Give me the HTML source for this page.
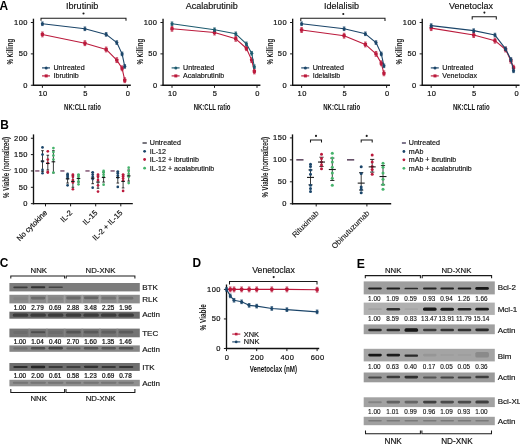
<!DOCTYPE html>
<html><head><meta charset="utf-8"><style>
html,body{margin:0;padding:0;background:#fff;}
body{width:520px;height:445px;overflow:hidden;}
svg{display:block;font-family:"Liberation Sans",sans-serif;filter:blur(0.35px);}
</style></head><body>
<svg width="520" height="445" viewBox="0 0 520 445">
<rect width="520" height="445" fill="#fff"/>
<defs><filter id="bl" x="-20%" y="-100%" width="140%" height="300%"><feGaussianBlur stdDeviation="0.7"/></filter></defs>
<line x1="33.45" y1="18.7" x2="33.45" y2="85.9" stroke="#111" stroke-width="1.35"/>
<line x1="32.8" y1="85.25" x2="130.8" y2="85.25" stroke="#111" stroke-width="1.35"/>
<line x1="30.85" y1="22.5" x2="33.45" y2="22.5" stroke="#1a1a1a" stroke-width="1"/>
<text x="27.9" y="24.81" font-size="7.5" text-anchor="end" letter-spacing="0.45" fill="#111" stroke="#111" stroke-width="0.2">100</text>
<line x1="30.85" y1="53.88" x2="33.45" y2="53.88" stroke="#1a1a1a" stroke-width="1"/>
<text x="27.9" y="56.18" font-size="7.5" text-anchor="end" letter-spacing="0.45" fill="#111" stroke="#111" stroke-width="0.2">50</text>
<line x1="30.85" y1="85.25" x2="33.45" y2="85.25" stroke="#1a1a1a" stroke-width="1"/>
<text x="27.9" y="87.56" font-size="7.5" text-anchor="end" letter-spacing="0.45" fill="#111" stroke="#111" stroke-width="0.2">0</text>
<line x1="42.4" y1="85.25" x2="42.4" y2="87.85" stroke="#1a1a1a" stroke-width="1"/>
<text x="43.03" y="96.31" font-size="7.5" text-anchor="middle" letter-spacing="0.45" fill="#111" stroke="#111" stroke-width="0.2">10</text>
<line x1="84.9" y1="85.25" x2="84.9" y2="87.85" stroke="#1a1a1a" stroke-width="1"/>
<text x="85.53" y="96.31" font-size="7.5" text-anchor="middle" letter-spacing="0.45" fill="#111" stroke="#111" stroke-width="0.2">5</text>
<line x1="127.4" y1="85.25" x2="127.4" y2="87.85" stroke="#1a1a1a" stroke-width="1"/>
<text x="128.03" y="96.31" font-size="7.5" text-anchor="middle" letter-spacing="0.45" fill="#111" stroke="#111" stroke-width="0.2">0</text>
<text x="82.5" y="109.89" font-size="8.7" text-anchor="middle" font-weight="bold" fill="#111" textLength="36.8" lengthAdjust="spacingAndGlyphs">NK:CLL ratio</text>
<text x="10.5" y="54.66" font-size="8.6" text-anchor="middle" font-weight="bold" fill="#111" textLength="25.8" lengthAdjust="spacingAndGlyphs" transform="rotate(-90 10.5 51.7)">% Killing</text>
<text x="82.2" y="9.05" font-size="9" text-anchor="middle" fill="#111" textLength="32.4" lengthAdjust="spacingAndGlyphs" stroke="#111" stroke-width="0.16">Ibrutinib</text>
<polyline points="41,20.8 41,18.2 126,18.2 126,20.8" fill="none" stroke="#1a1a1a" stroke-width="1.05"/>
<circle cx="83.5" cy="13.5" r="1.05" fill="#1a1a1a"/>
<polyline points="42.4,34.42 84.9,43.21 106.15,49.48 116.78,60.15 122.09,68.31 124.74,80.23" fill="none" stroke="#bb1a3c" stroke-width="1.1" stroke-linejoin="round"/>
<line x1="42.4" y1="32.02" x2="42.4" y2="36.82" stroke="#bb1a3c" stroke-width="0.8"/>
<line x1="41.1" y1="32.02" x2="43.7" y2="32.02" stroke="#bb1a3c" stroke-width="0.8"/>
<line x1="41.1" y1="36.82" x2="43.7" y2="36.82" stroke="#bb1a3c" stroke-width="0.8"/>
<rect x="40.7" y="32.72" width="3.4" height="3.4" fill="#bb1a3c" rx="0.8"/>
<line x1="84.9" y1="40.81" x2="84.9" y2="45.61" stroke="#bb1a3c" stroke-width="0.8"/>
<line x1="83.6" y1="40.81" x2="86.2" y2="40.81" stroke="#bb1a3c" stroke-width="0.8"/>
<line x1="83.6" y1="45.61" x2="86.2" y2="45.61" stroke="#bb1a3c" stroke-width="0.8"/>
<rect x="83.2" y="41.51" width="3.4" height="3.4" fill="#bb1a3c" rx="0.8"/>
<line x1="106.15" y1="47.08" x2="106.15" y2="51.88" stroke="#bb1a3c" stroke-width="0.8"/>
<line x1="104.85" y1="47.08" x2="107.45" y2="47.08" stroke="#bb1a3c" stroke-width="0.8"/>
<line x1="104.85" y1="51.88" x2="107.45" y2="51.88" stroke="#bb1a3c" stroke-width="0.8"/>
<rect x="104.45" y="47.78" width="3.4" height="3.4" fill="#bb1a3c" rx="0.8"/>
<line x1="116.78" y1="57.75" x2="116.78" y2="62.55" stroke="#bb1a3c" stroke-width="0.8"/>
<line x1="115.48" y1="57.75" x2="118.08" y2="57.75" stroke="#bb1a3c" stroke-width="0.8"/>
<line x1="115.48" y1="62.55" x2="118.08" y2="62.55" stroke="#bb1a3c" stroke-width="0.8"/>
<rect x="115.08" y="58.45" width="3.4" height="3.4" fill="#bb1a3c" rx="0.8"/>
<line x1="122.09" y1="65.91" x2="122.09" y2="70.71" stroke="#bb1a3c" stroke-width="0.8"/>
<line x1="120.79" y1="65.91" x2="123.39" y2="65.91" stroke="#bb1a3c" stroke-width="0.8"/>
<line x1="120.79" y1="70.71" x2="123.39" y2="70.71" stroke="#bb1a3c" stroke-width="0.8"/>
<rect x="120.39" y="66.61" width="3.4" height="3.4" fill="#bb1a3c" rx="0.8"/>
<line x1="124.74" y1="77.83" x2="124.74" y2="82.63" stroke="#bb1a3c" stroke-width="0.8"/>
<line x1="123.44" y1="77.83" x2="126.04" y2="77.83" stroke="#bb1a3c" stroke-width="0.8"/>
<line x1="123.44" y1="82.63" x2="126.04" y2="82.63" stroke="#bb1a3c" stroke-width="0.8"/>
<rect x="123.04" y="78.53" width="3.4" height="3.4" fill="#bb1a3c" rx="0.8"/>
<polyline points="42.4,23.76 84.9,28.78 106.15,34.42 116.78,42.58 122.09,53.88 124.74,66.42" fill="none" stroke="#1b4569" stroke-width="1.1" stroke-linejoin="round"/>
<line x1="42.4" y1="21.96" x2="42.4" y2="25.56" stroke="#1b4569" stroke-width="0.8"/>
<line x1="41.1" y1="21.96" x2="43.7" y2="21.96" stroke="#1b4569" stroke-width="0.8"/>
<line x1="41.1" y1="25.56" x2="43.7" y2="25.56" stroke="#1b4569" stroke-width="0.8"/>
<circle cx="42.4" cy="23.76" r="1.6" fill="#1b4569"/>
<line x1="84.9" y1="26.98" x2="84.9" y2="30.58" stroke="#1b4569" stroke-width="0.8"/>
<line x1="83.6" y1="26.98" x2="86.2" y2="26.98" stroke="#1b4569" stroke-width="0.8"/>
<line x1="83.6" y1="30.58" x2="86.2" y2="30.58" stroke="#1b4569" stroke-width="0.8"/>
<circle cx="84.9" cy="28.78" r="1.6" fill="#1b4569"/>
<line x1="106.15" y1="32.62" x2="106.15" y2="36.22" stroke="#1b4569" stroke-width="0.8"/>
<line x1="104.85" y1="32.62" x2="107.45" y2="32.62" stroke="#1b4569" stroke-width="0.8"/>
<line x1="104.85" y1="36.22" x2="107.45" y2="36.22" stroke="#1b4569" stroke-width="0.8"/>
<circle cx="106.15" cy="34.42" r="1.6" fill="#1b4569"/>
<line x1="116.78" y1="40.78" x2="116.78" y2="44.38" stroke="#1b4569" stroke-width="0.8"/>
<line x1="115.48" y1="40.78" x2="118.08" y2="40.78" stroke="#1b4569" stroke-width="0.8"/>
<line x1="115.48" y1="44.38" x2="118.08" y2="44.38" stroke="#1b4569" stroke-width="0.8"/>
<circle cx="116.78" cy="42.58" r="1.6" fill="#1b4569"/>
<line x1="122.09" y1="52.08" x2="122.09" y2="55.67" stroke="#1b4569" stroke-width="0.8"/>
<line x1="120.79" y1="52.08" x2="123.39" y2="52.08" stroke="#1b4569" stroke-width="0.8"/>
<line x1="120.79" y1="55.67" x2="123.39" y2="55.67" stroke="#1b4569" stroke-width="0.8"/>
<circle cx="122.09" cy="53.88" r="1.6" fill="#1b4569"/>
<line x1="124.74" y1="64.62" x2="124.74" y2="68.22" stroke="#1b4569" stroke-width="0.8"/>
<line x1="123.44" y1="64.62" x2="126.04" y2="64.62" stroke="#1b4569" stroke-width="0.8"/>
<line x1="123.44" y1="68.22" x2="126.04" y2="68.22" stroke="#1b4569" stroke-width="0.8"/>
<circle cx="124.74" cy="66.42" r="1.6" fill="#1b4569"/>
<line x1="42" y1="67.9" x2="50" y2="67.9" stroke="#1b4569" stroke-width="1.15"/>
<circle cx="46.2" cy="67.9" r="1.5" fill="#1b4569"/>
<text x="53.5" y="70.24" font-size="7.1" text-anchor="start" fill="#111" stroke="#111" stroke-width="0.16">Untreated</text>
<line x1="42" y1="75.9" x2="50" y2="75.9" stroke="#bb1a3c" stroke-width="1.15"/>
<rect x="44.7" y="74.4" width="3" height="3" fill="#bb1a3c"/>
<text x="53.5" y="78.14" font-size="7.1" text-anchor="start" fill="#111" stroke="#111" stroke-width="0.16">Ibrutinib</text>
<line x1="163.05" y1="18.7" x2="163.05" y2="85.9" stroke="#111" stroke-width="1.35"/>
<line x1="162.4" y1="85.25" x2="260.4" y2="85.25" stroke="#111" stroke-width="1.35"/>
<line x1="160.45" y1="22.5" x2="163.05" y2="22.5" stroke="#1a1a1a" stroke-width="1"/>
<text x="157.5" y="24.81" font-size="7.5" text-anchor="end" letter-spacing="0.45" fill="#111" stroke="#111" stroke-width="0.2">100</text>
<line x1="160.45" y1="53.88" x2="163.05" y2="53.88" stroke="#1a1a1a" stroke-width="1"/>
<text x="157.5" y="56.18" font-size="7.5" text-anchor="end" letter-spacing="0.45" fill="#111" stroke="#111" stroke-width="0.2">50</text>
<line x1="160.45" y1="85.25" x2="163.05" y2="85.25" stroke="#1a1a1a" stroke-width="1"/>
<text x="157.5" y="87.56" font-size="7.5" text-anchor="end" letter-spacing="0.45" fill="#111" stroke="#111" stroke-width="0.2">0</text>
<line x1="172" y1="85.25" x2="172" y2="87.85" stroke="#1a1a1a" stroke-width="1"/>
<text x="172.62" y="96.31" font-size="7.5" text-anchor="middle" letter-spacing="0.45" fill="#111" stroke="#111" stroke-width="0.2">10</text>
<line x1="214.5" y1="85.25" x2="214.5" y2="87.85" stroke="#1a1a1a" stroke-width="1"/>
<text x="215.12" y="96.31" font-size="7.5" text-anchor="middle" letter-spacing="0.45" fill="#111" stroke="#111" stroke-width="0.2">5</text>
<line x1="257" y1="85.25" x2="257" y2="87.85" stroke="#1a1a1a" stroke-width="1"/>
<text x="257.62" y="96.31" font-size="7.5" text-anchor="middle" letter-spacing="0.45" fill="#111" stroke="#111" stroke-width="0.2">0</text>
<text x="212.1" y="109.89" font-size="8.7" text-anchor="middle" font-weight="bold" fill="#111" textLength="36.8" lengthAdjust="spacingAndGlyphs">NK:CLL ratio</text>
<text x="140.1" y="54.66" font-size="8.6" text-anchor="middle" font-weight="bold" fill="#111" textLength="25.8" lengthAdjust="spacingAndGlyphs" transform="rotate(-90 140.1 51.7)">% Killing</text>
<text x="211.8" y="9.05" font-size="9" text-anchor="middle" fill="#111" stroke="#111" stroke-width="0.16">Acalabrutinib</text>
<polyline points="172,28.78 214.5,32.54 235.75,38.82 246.38,48.23 251.69,60.15 254.34,71.44" fill="none" stroke="#bb1a3c" stroke-width="1.1" stroke-linejoin="round"/>
<line x1="172" y1="26.38" x2="172" y2="31.18" stroke="#bb1a3c" stroke-width="0.8"/>
<line x1="170.7" y1="26.38" x2="173.3" y2="26.38" stroke="#bb1a3c" stroke-width="0.8"/>
<line x1="170.7" y1="31.18" x2="173.3" y2="31.18" stroke="#bb1a3c" stroke-width="0.8"/>
<rect x="170.3" y="27.08" width="3.4" height="3.4" fill="#bb1a3c" rx="0.8"/>
<line x1="214.5" y1="30.14" x2="214.5" y2="34.94" stroke="#bb1a3c" stroke-width="0.8"/>
<line x1="213.2" y1="30.14" x2="215.8" y2="30.14" stroke="#bb1a3c" stroke-width="0.8"/>
<line x1="213.2" y1="34.94" x2="215.8" y2="34.94" stroke="#bb1a3c" stroke-width="0.8"/>
<rect x="212.8" y="30.84" width="3.4" height="3.4" fill="#bb1a3c" rx="0.8"/>
<line x1="235.75" y1="36.42" x2="235.75" y2="41.22" stroke="#bb1a3c" stroke-width="0.8"/>
<line x1="234.45" y1="36.42" x2="237.05" y2="36.42" stroke="#bb1a3c" stroke-width="0.8"/>
<line x1="234.45" y1="41.22" x2="237.05" y2="41.22" stroke="#bb1a3c" stroke-width="0.8"/>
<rect x="234.05" y="37.12" width="3.4" height="3.4" fill="#bb1a3c" rx="0.8"/>
<line x1="246.38" y1="45.83" x2="246.38" y2="50.63" stroke="#bb1a3c" stroke-width="0.8"/>
<line x1="245.07" y1="45.83" x2="247.68" y2="45.83" stroke="#bb1a3c" stroke-width="0.8"/>
<line x1="245.07" y1="50.63" x2="247.68" y2="50.63" stroke="#bb1a3c" stroke-width="0.8"/>
<rect x="244.68" y="46.53" width="3.4" height="3.4" fill="#bb1a3c" rx="0.8"/>
<line x1="251.69" y1="57.75" x2="251.69" y2="62.55" stroke="#bb1a3c" stroke-width="0.8"/>
<line x1="250.39" y1="57.75" x2="252.99" y2="57.75" stroke="#bb1a3c" stroke-width="0.8"/>
<line x1="250.39" y1="62.55" x2="252.99" y2="62.55" stroke="#bb1a3c" stroke-width="0.8"/>
<rect x="249.99" y="58.45" width="3.4" height="3.4" fill="#bb1a3c" rx="0.8"/>
<line x1="254.34" y1="69.04" x2="254.34" y2="73.84" stroke="#bb1a3c" stroke-width="0.8"/>
<line x1="253.04" y1="69.04" x2="255.64" y2="69.04" stroke="#bb1a3c" stroke-width="0.8"/>
<line x1="253.04" y1="73.84" x2="255.64" y2="73.84" stroke="#bb1a3c" stroke-width="0.8"/>
<rect x="252.64" y="69.74" width="3.4" height="3.4" fill="#bb1a3c" rx="0.8"/>
<polyline points="172,23.76 214.5,29.72 235.75,33.8 246.38,43.84 251.69,53.25 254.34,66.74" fill="none" stroke="#1c5a6e" stroke-width="1.1" stroke-linejoin="round"/>
<line x1="172" y1="21.96" x2="172" y2="25.56" stroke="#1c5a6e" stroke-width="0.8"/>
<line x1="170.7" y1="21.96" x2="173.3" y2="21.96" stroke="#1c5a6e" stroke-width="0.8"/>
<line x1="170.7" y1="25.56" x2="173.3" y2="25.56" stroke="#1c5a6e" stroke-width="0.8"/>
<circle cx="172" cy="23.76" r="1.6" fill="#1c5a6e"/>
<line x1="214.5" y1="27.92" x2="214.5" y2="31.52" stroke="#1c5a6e" stroke-width="0.8"/>
<line x1="213.2" y1="27.92" x2="215.8" y2="27.92" stroke="#1c5a6e" stroke-width="0.8"/>
<line x1="213.2" y1="31.52" x2="215.8" y2="31.52" stroke="#1c5a6e" stroke-width="0.8"/>
<circle cx="214.5" cy="29.72" r="1.6" fill="#1c5a6e"/>
<line x1="235.75" y1="32" x2="235.75" y2="35.59" stroke="#1c5a6e" stroke-width="0.8"/>
<line x1="234.45" y1="32" x2="237.05" y2="32" stroke="#1c5a6e" stroke-width="0.8"/>
<line x1="234.45" y1="35.59" x2="237.05" y2="35.59" stroke="#1c5a6e" stroke-width="0.8"/>
<circle cx="235.75" cy="33.8" r="1.6" fill="#1c5a6e"/>
<line x1="246.38" y1="42.04" x2="246.38" y2="45.63" stroke="#1c5a6e" stroke-width="0.8"/>
<line x1="245.07" y1="42.04" x2="247.68" y2="42.04" stroke="#1c5a6e" stroke-width="0.8"/>
<line x1="245.07" y1="45.63" x2="247.68" y2="45.63" stroke="#1c5a6e" stroke-width="0.8"/>
<circle cx="246.38" cy="43.84" r="1.6" fill="#1c5a6e"/>
<line x1="251.69" y1="51.45" x2="251.69" y2="55.05" stroke="#1c5a6e" stroke-width="0.8"/>
<line x1="250.39" y1="51.45" x2="252.99" y2="51.45" stroke="#1c5a6e" stroke-width="0.8"/>
<line x1="250.39" y1="55.05" x2="252.99" y2="55.05" stroke="#1c5a6e" stroke-width="0.8"/>
<circle cx="251.69" cy="53.25" r="1.6" fill="#1c5a6e"/>
<line x1="254.34" y1="64.94" x2="254.34" y2="68.54" stroke="#1c5a6e" stroke-width="0.8"/>
<line x1="253.04" y1="64.94" x2="255.64" y2="64.94" stroke="#1c5a6e" stroke-width="0.8"/>
<line x1="253.04" y1="68.54" x2="255.64" y2="68.54" stroke="#1c5a6e" stroke-width="0.8"/>
<circle cx="254.34" cy="66.74" r="1.6" fill="#1c5a6e"/>
<line x1="171.6" y1="67.9" x2="179.6" y2="67.9" stroke="#1c5a6e" stroke-width="1.15"/>
<circle cx="175.8" cy="67.9" r="1.5" fill="#1c5a6e"/>
<text x="183.1" y="70.24" font-size="7.1" text-anchor="start" fill="#111" stroke="#111" stroke-width="0.16">Untreated</text>
<line x1="171.6" y1="75.9" x2="179.6" y2="75.9" stroke="#bb1a3c" stroke-width="1.15"/>
<rect x="174.3" y="74.4" width="3" height="3" fill="#bb1a3c"/>
<text x="183.1" y="78.14" font-size="7.1" text-anchor="start" fill="#111" stroke="#111" stroke-width="0.16">Acalabrutinib</text>
<line x1="292.65" y1="18.7" x2="292.65" y2="85.9" stroke="#111" stroke-width="1.35"/>
<line x1="292" y1="85.25" x2="390" y2="85.25" stroke="#111" stroke-width="1.35"/>
<line x1="290.05" y1="22.5" x2="292.65" y2="22.5" stroke="#1a1a1a" stroke-width="1"/>
<text x="287.1" y="24.81" font-size="7.5" text-anchor="end" letter-spacing="0.45" fill="#111" stroke="#111" stroke-width="0.2">100</text>
<line x1="290.05" y1="53.88" x2="292.65" y2="53.88" stroke="#1a1a1a" stroke-width="1"/>
<text x="287.1" y="56.18" font-size="7.5" text-anchor="end" letter-spacing="0.45" fill="#111" stroke="#111" stroke-width="0.2">50</text>
<line x1="290.05" y1="85.25" x2="292.65" y2="85.25" stroke="#1a1a1a" stroke-width="1"/>
<text x="287.1" y="87.56" font-size="7.5" text-anchor="end" letter-spacing="0.45" fill="#111" stroke="#111" stroke-width="0.2">0</text>
<line x1="301.6" y1="85.25" x2="301.6" y2="87.85" stroke="#1a1a1a" stroke-width="1"/>
<text x="302.23" y="96.31" font-size="7.5" text-anchor="middle" letter-spacing="0.45" fill="#111" stroke="#111" stroke-width="0.2">10</text>
<line x1="344.1" y1="85.25" x2="344.1" y2="87.85" stroke="#1a1a1a" stroke-width="1"/>
<text x="344.73" y="96.31" font-size="7.5" text-anchor="middle" letter-spacing="0.45" fill="#111" stroke="#111" stroke-width="0.2">5</text>
<line x1="386.6" y1="85.25" x2="386.6" y2="87.85" stroke="#1a1a1a" stroke-width="1"/>
<text x="387.23" y="96.31" font-size="7.5" text-anchor="middle" letter-spacing="0.45" fill="#111" stroke="#111" stroke-width="0.2">0</text>
<text x="341.7" y="109.89" font-size="8.7" text-anchor="middle" font-weight="bold" fill="#111" textLength="36.8" lengthAdjust="spacingAndGlyphs">NK:CLL ratio</text>
<text x="269.7" y="54.66" font-size="8.6" text-anchor="middle" font-weight="bold" fill="#111" textLength="25.8" lengthAdjust="spacingAndGlyphs" transform="rotate(-90 269.7 51.7)">% Killing</text>
<text x="341.4" y="9.05" font-size="9" text-anchor="middle" fill="#111" stroke="#111" stroke-width="0.16">Idelalisib</text>
<polyline points="300.8,20.9 300.8,18.3 385,18.3 385,20.9" fill="none" stroke="#1a1a1a" stroke-width="1.05"/>
<circle cx="343.3" cy="14" r="1.05" fill="#1a1a1a"/>
<polyline points="301.6,30.03 344.1,35.68 365.35,44.46 375.98,53.88 381.29,63.29 383.94,73.33" fill="none" stroke="#bb1a3c" stroke-width="1.1" stroke-linejoin="round"/>
<line x1="301.6" y1="27.63" x2="301.6" y2="32.43" stroke="#bb1a3c" stroke-width="0.8"/>
<line x1="300.3" y1="27.63" x2="302.9" y2="27.63" stroke="#bb1a3c" stroke-width="0.8"/>
<line x1="300.3" y1="32.43" x2="302.9" y2="32.43" stroke="#bb1a3c" stroke-width="0.8"/>
<rect x="299.9" y="28.33" width="3.4" height="3.4" fill="#bb1a3c" rx="0.8"/>
<line x1="344.1" y1="33.28" x2="344.1" y2="38.08" stroke="#bb1a3c" stroke-width="0.8"/>
<line x1="342.8" y1="33.28" x2="345.4" y2="33.28" stroke="#bb1a3c" stroke-width="0.8"/>
<line x1="342.8" y1="38.08" x2="345.4" y2="38.08" stroke="#bb1a3c" stroke-width="0.8"/>
<rect x="342.4" y="33.98" width="3.4" height="3.4" fill="#bb1a3c" rx="0.8"/>
<line x1="365.35" y1="42.06" x2="365.35" y2="46.86" stroke="#bb1a3c" stroke-width="0.8"/>
<line x1="364.05" y1="42.06" x2="366.65" y2="42.06" stroke="#bb1a3c" stroke-width="0.8"/>
<line x1="364.05" y1="46.86" x2="366.65" y2="46.86" stroke="#bb1a3c" stroke-width="0.8"/>
<rect x="363.65" y="42.76" width="3.4" height="3.4" fill="#bb1a3c" rx="0.8"/>
<line x1="375.98" y1="51.48" x2="375.98" y2="56.27" stroke="#bb1a3c" stroke-width="0.8"/>
<line x1="374.68" y1="51.48" x2="377.28" y2="51.48" stroke="#bb1a3c" stroke-width="0.8"/>
<line x1="374.68" y1="56.27" x2="377.28" y2="56.27" stroke="#bb1a3c" stroke-width="0.8"/>
<rect x="374.28" y="52.17" width="3.4" height="3.4" fill="#bb1a3c" rx="0.8"/>
<line x1="381.29" y1="60.89" x2="381.29" y2="65.69" stroke="#bb1a3c" stroke-width="0.8"/>
<line x1="379.99" y1="60.89" x2="382.59" y2="60.89" stroke="#bb1a3c" stroke-width="0.8"/>
<line x1="379.99" y1="65.69" x2="382.59" y2="65.69" stroke="#bb1a3c" stroke-width="0.8"/>
<rect x="379.59" y="61.59" width="3.4" height="3.4" fill="#bb1a3c" rx="0.8"/>
<line x1="383.94" y1="70.93" x2="383.94" y2="75.73" stroke="#bb1a3c" stroke-width="0.8"/>
<line x1="382.64" y1="70.93" x2="385.24" y2="70.93" stroke="#bb1a3c" stroke-width="0.8"/>
<line x1="382.64" y1="75.73" x2="385.24" y2="75.73" stroke="#bb1a3c" stroke-width="0.8"/>
<rect x="382.24" y="71.63" width="3.4" height="3.4" fill="#bb1a3c" rx="0.8"/>
<polyline points="301.6,23.76 344.1,28.78 365.35,33.8 375.98,42.58 381.29,53.88 383.94,65.8" fill="none" stroke="#1b4569" stroke-width="1.1" stroke-linejoin="round"/>
<line x1="301.6" y1="21.96" x2="301.6" y2="25.56" stroke="#1b4569" stroke-width="0.8"/>
<line x1="300.3" y1="21.96" x2="302.9" y2="21.96" stroke="#1b4569" stroke-width="0.8"/>
<line x1="300.3" y1="25.56" x2="302.9" y2="25.56" stroke="#1b4569" stroke-width="0.8"/>
<circle cx="301.6" cy="23.76" r="1.6" fill="#1b4569"/>
<line x1="344.1" y1="26.98" x2="344.1" y2="30.58" stroke="#1b4569" stroke-width="0.8"/>
<line x1="342.8" y1="26.98" x2="345.4" y2="26.98" stroke="#1b4569" stroke-width="0.8"/>
<line x1="342.8" y1="30.58" x2="345.4" y2="30.58" stroke="#1b4569" stroke-width="0.8"/>
<circle cx="344.1" cy="28.78" r="1.6" fill="#1b4569"/>
<line x1="365.35" y1="32" x2="365.35" y2="35.59" stroke="#1b4569" stroke-width="0.8"/>
<line x1="364.05" y1="32" x2="366.65" y2="32" stroke="#1b4569" stroke-width="0.8"/>
<line x1="364.05" y1="35.59" x2="366.65" y2="35.59" stroke="#1b4569" stroke-width="0.8"/>
<circle cx="365.35" cy="33.8" r="1.6" fill="#1b4569"/>
<line x1="375.98" y1="40.78" x2="375.98" y2="44.38" stroke="#1b4569" stroke-width="0.8"/>
<line x1="374.68" y1="40.78" x2="377.28" y2="40.78" stroke="#1b4569" stroke-width="0.8"/>
<line x1="374.68" y1="44.38" x2="377.28" y2="44.38" stroke="#1b4569" stroke-width="0.8"/>
<circle cx="375.98" cy="42.58" r="1.6" fill="#1b4569"/>
<line x1="381.29" y1="52.08" x2="381.29" y2="55.67" stroke="#1b4569" stroke-width="0.8"/>
<line x1="379.99" y1="52.08" x2="382.59" y2="52.08" stroke="#1b4569" stroke-width="0.8"/>
<line x1="379.99" y1="55.67" x2="382.59" y2="55.67" stroke="#1b4569" stroke-width="0.8"/>
<circle cx="381.29" cy="53.88" r="1.6" fill="#1b4569"/>
<line x1="383.94" y1="64" x2="383.94" y2="67.6" stroke="#1b4569" stroke-width="0.8"/>
<line x1="382.64" y1="64" x2="385.24" y2="64" stroke="#1b4569" stroke-width="0.8"/>
<line x1="382.64" y1="67.6" x2="385.24" y2="67.6" stroke="#1b4569" stroke-width="0.8"/>
<circle cx="383.94" cy="65.8" r="1.6" fill="#1b4569"/>
<line x1="301.2" y1="67.9" x2="309.2" y2="67.9" stroke="#1b4569" stroke-width="1.15"/>
<circle cx="305.4" cy="67.9" r="1.5" fill="#1b4569"/>
<text x="312.7" y="70.24" font-size="7.1" text-anchor="start" fill="#111" stroke="#111" stroke-width="0.16">Untreated</text>
<line x1="301.2" y1="75.9" x2="309.2" y2="75.9" stroke="#bb1a3c" stroke-width="1.15"/>
<rect x="303.9" y="74.4" width="3" height="3" fill="#bb1a3c"/>
<text x="312.7" y="78.14" font-size="7.1" text-anchor="start" fill="#111" stroke="#111" stroke-width="0.16">Idelalisib</text>
<line x1="422.25" y1="18.7" x2="422.25" y2="85.9" stroke="#111" stroke-width="1.35"/>
<line x1="421.6" y1="85.25" x2="519.6" y2="85.25" stroke="#111" stroke-width="1.35"/>
<line x1="419.65" y1="22.5" x2="422.25" y2="22.5" stroke="#1a1a1a" stroke-width="1"/>
<text x="416.7" y="24.81" font-size="7.5" text-anchor="end" letter-spacing="0.45" fill="#111" stroke="#111" stroke-width="0.2">100</text>
<line x1="419.65" y1="53.88" x2="422.25" y2="53.88" stroke="#1a1a1a" stroke-width="1"/>
<text x="416.7" y="56.18" font-size="7.5" text-anchor="end" letter-spacing="0.45" fill="#111" stroke="#111" stroke-width="0.2">50</text>
<line x1="419.65" y1="85.25" x2="422.25" y2="85.25" stroke="#1a1a1a" stroke-width="1"/>
<text x="416.7" y="87.56" font-size="7.5" text-anchor="end" letter-spacing="0.45" fill="#111" stroke="#111" stroke-width="0.2">0</text>
<line x1="431.2" y1="85.25" x2="431.2" y2="87.85" stroke="#1a1a1a" stroke-width="1"/>
<text x="431.82" y="96.31" font-size="7.5" text-anchor="middle" letter-spacing="0.45" fill="#111" stroke="#111" stroke-width="0.2">10</text>
<line x1="473.7" y1="85.25" x2="473.7" y2="87.85" stroke="#1a1a1a" stroke-width="1"/>
<text x="474.32" y="96.31" font-size="7.5" text-anchor="middle" letter-spacing="0.45" fill="#111" stroke="#111" stroke-width="0.2">5</text>
<line x1="516.2" y1="85.25" x2="516.2" y2="87.85" stroke="#1a1a1a" stroke-width="1"/>
<text x="516.82" y="96.31" font-size="7.5" text-anchor="middle" letter-spacing="0.45" fill="#111" stroke="#111" stroke-width="0.2">0</text>
<text x="471.3" y="109.89" font-size="8.7" text-anchor="middle" font-weight="bold" fill="#111" textLength="36.8" lengthAdjust="spacingAndGlyphs">NK:CLL ratio</text>
<text x="399.3" y="54.66" font-size="8.6" text-anchor="middle" font-weight="bold" fill="#111" textLength="25.8" lengthAdjust="spacingAndGlyphs" transform="rotate(-90 399.3 51.7)">% Killing</text>
<text x="471" y="9.05" font-size="9" text-anchor="middle" fill="#111" stroke="#111" stroke-width="0.16">Venetoclax</text>
<polyline points="472.2,19.4 472.2,16.8 496.3,16.8 496.3,19.4" fill="none" stroke="#1a1a1a" stroke-width="1.05"/>
<circle cx="484.4" cy="12.6" r="1.05" fill="#1a1a1a"/>
<polyline points="431.2,28.15 473.7,35.05 494.95,40.7 505.57,49.48 510.89,60.78 513.54,67.68" fill="none" stroke="#bb1a3c" stroke-width="1.1" stroke-linejoin="round"/>
<line x1="431.2" y1="25.75" x2="431.2" y2="30.55" stroke="#bb1a3c" stroke-width="0.8"/>
<line x1="429.9" y1="25.75" x2="432.5" y2="25.75" stroke="#bb1a3c" stroke-width="0.8"/>
<line x1="429.9" y1="30.55" x2="432.5" y2="30.55" stroke="#bb1a3c" stroke-width="0.8"/>
<rect x="429.5" y="26.45" width="3.4" height="3.4" fill="#bb1a3c" rx="0.8"/>
<line x1="473.7" y1="32.65" x2="473.7" y2="37.45" stroke="#bb1a3c" stroke-width="0.8"/>
<line x1="472.4" y1="32.65" x2="475" y2="32.65" stroke="#bb1a3c" stroke-width="0.8"/>
<line x1="472.4" y1="37.45" x2="475" y2="37.45" stroke="#bb1a3c" stroke-width="0.8"/>
<rect x="472" y="33.35" width="3.4" height="3.4" fill="#bb1a3c" rx="0.8"/>
<line x1="494.95" y1="38.3" x2="494.95" y2="43.1" stroke="#bb1a3c" stroke-width="0.8"/>
<line x1="493.65" y1="38.3" x2="496.25" y2="38.3" stroke="#bb1a3c" stroke-width="0.8"/>
<line x1="493.65" y1="43.1" x2="496.25" y2="43.1" stroke="#bb1a3c" stroke-width="0.8"/>
<rect x="493.25" y="39" width="3.4" height="3.4" fill="#bb1a3c" rx="0.8"/>
<line x1="505.57" y1="47.08" x2="505.57" y2="51.88" stroke="#bb1a3c" stroke-width="0.8"/>
<line x1="504.27" y1="47.08" x2="506.87" y2="47.08" stroke="#bb1a3c" stroke-width="0.8"/>
<line x1="504.27" y1="51.88" x2="506.87" y2="51.88" stroke="#bb1a3c" stroke-width="0.8"/>
<rect x="503.87" y="47.78" width="3.4" height="3.4" fill="#bb1a3c" rx="0.8"/>
<line x1="510.89" y1="58.38" x2="510.89" y2="63.18" stroke="#bb1a3c" stroke-width="0.8"/>
<line x1="509.59" y1="58.38" x2="512.19" y2="58.38" stroke="#bb1a3c" stroke-width="0.8"/>
<line x1="509.59" y1="63.18" x2="512.19" y2="63.18" stroke="#bb1a3c" stroke-width="0.8"/>
<rect x="509.19" y="59.08" width="3.4" height="3.4" fill="#bb1a3c" rx="0.8"/>
<line x1="513.54" y1="65.28" x2="513.54" y2="70.08" stroke="#bb1a3c" stroke-width="0.8"/>
<line x1="512.24" y1="65.28" x2="514.84" y2="65.28" stroke="#bb1a3c" stroke-width="0.8"/>
<line x1="512.24" y1="70.08" x2="514.84" y2="70.08" stroke="#bb1a3c" stroke-width="0.8"/>
<rect x="511.84" y="65.98" width="3.4" height="3.4" fill="#bb1a3c" rx="0.8"/>
<polyline points="431.2,25.64 473.7,30.66 494.95,35.05 505.57,48.86 510.89,59.52 513.54,70.82" fill="none" stroke="#1b4569" stroke-width="1.1" stroke-linejoin="round"/>
<line x1="431.2" y1="23.84" x2="431.2" y2="27.44" stroke="#1b4569" stroke-width="0.8"/>
<line x1="429.9" y1="23.84" x2="432.5" y2="23.84" stroke="#1b4569" stroke-width="0.8"/>
<line x1="429.9" y1="27.44" x2="432.5" y2="27.44" stroke="#1b4569" stroke-width="0.8"/>
<circle cx="431.2" cy="25.64" r="1.6" fill="#1b4569"/>
<line x1="473.7" y1="28.86" x2="473.7" y2="32.46" stroke="#1b4569" stroke-width="0.8"/>
<line x1="472.4" y1="28.86" x2="475" y2="28.86" stroke="#1b4569" stroke-width="0.8"/>
<line x1="472.4" y1="32.46" x2="475" y2="32.46" stroke="#1b4569" stroke-width="0.8"/>
<circle cx="473.7" cy="30.66" r="1.6" fill="#1b4569"/>
<line x1="494.95" y1="33.25" x2="494.95" y2="36.85" stroke="#1b4569" stroke-width="0.8"/>
<line x1="493.65" y1="33.25" x2="496.25" y2="33.25" stroke="#1b4569" stroke-width="0.8"/>
<line x1="493.65" y1="36.85" x2="496.25" y2="36.85" stroke="#1b4569" stroke-width="0.8"/>
<circle cx="494.95" cy="35.05" r="1.6" fill="#1b4569"/>
<line x1="505.57" y1="47.06" x2="505.57" y2="50.66" stroke="#1b4569" stroke-width="0.8"/>
<line x1="504.27" y1="47.06" x2="506.87" y2="47.06" stroke="#1b4569" stroke-width="0.8"/>
<line x1="504.27" y1="50.66" x2="506.87" y2="50.66" stroke="#1b4569" stroke-width="0.8"/>
<circle cx="505.57" cy="48.86" r="1.6" fill="#1b4569"/>
<line x1="510.89" y1="57.72" x2="510.89" y2="61.32" stroke="#1b4569" stroke-width="0.8"/>
<line x1="509.59" y1="57.72" x2="512.19" y2="57.72" stroke="#1b4569" stroke-width="0.8"/>
<line x1="509.59" y1="61.32" x2="512.19" y2="61.32" stroke="#1b4569" stroke-width="0.8"/>
<circle cx="510.89" cy="59.52" r="1.6" fill="#1b4569"/>
<line x1="513.54" y1="69.02" x2="513.54" y2="72.62" stroke="#1b4569" stroke-width="0.8"/>
<line x1="512.24" y1="69.02" x2="514.84" y2="69.02" stroke="#1b4569" stroke-width="0.8"/>
<line x1="512.24" y1="72.62" x2="514.84" y2="72.62" stroke="#1b4569" stroke-width="0.8"/>
<circle cx="513.54" cy="70.82" r="1.6" fill="#1b4569"/>
<line x1="430.8" y1="67.9" x2="438.8" y2="67.9" stroke="#1b4569" stroke-width="1.15"/>
<circle cx="435" cy="67.9" r="1.5" fill="#1b4569"/>
<text x="442.3" y="70.24" font-size="7.1" text-anchor="start" fill="#111" stroke="#111" stroke-width="0.16">Untreated</text>
<line x1="430.8" y1="75.9" x2="438.8" y2="75.9" stroke="#bb1a3c" stroke-width="1.15"/>
<rect x="433.5" y="74.4" width="3" height="3" fill="#bb1a3c"/>
<text x="442.3" y="78.14" font-size="7.1" text-anchor="start" fill="#111" stroke="#111" stroke-width="0.16">Venetoclax</text>
<text x="3.9" y="9.99" font-size="11.9" text-anchor="middle" font-weight="bold" fill="#000">A</text>
<text x="4.6" y="129.39" font-size="11.9" text-anchor="middle" font-weight="bold" fill="#000">B</text>
<line x1="33.5" y1="134.4" x2="33.5" y2="204.3" stroke="#111" stroke-width="1.35"/>
<line x1="32.85" y1="203.65" x2="132.8" y2="203.65" stroke="#111" stroke-width="1.35"/>
<line x1="30.9" y1="138.25" x2="33.5" y2="138.25" stroke="#1a1a1a" stroke-width="1"/>
<text x="27.95" y="140.56" font-size="7.5" text-anchor="end" letter-spacing="0.45" fill="#111" stroke="#111" stroke-width="0.2">200</text>
<line x1="30.9" y1="154.6" x2="33.5" y2="154.6" stroke="#1a1a1a" stroke-width="1"/>
<text x="27.95" y="156.91" font-size="7.5" text-anchor="end" letter-spacing="0.45" fill="#111" stroke="#111" stroke-width="0.2">150</text>
<line x1="30.9" y1="170.95" x2="33.5" y2="170.95" stroke="#1a1a1a" stroke-width="1"/>
<text x="27.95" y="173.26" font-size="7.5" text-anchor="end" letter-spacing="0.45" fill="#111" stroke="#111" stroke-width="0.2">100</text>
<line x1="30.9" y1="187.3" x2="33.5" y2="187.3" stroke="#1a1a1a" stroke-width="1"/>
<text x="27.95" y="189.61" font-size="7.5" text-anchor="end" letter-spacing="0.45" fill="#111" stroke="#111" stroke-width="0.2">50</text>
<line x1="30.9" y1="203.65" x2="33.5" y2="203.65" stroke="#1a1a1a" stroke-width="1"/>
<text x="27.95" y="205.96" font-size="7.5" text-anchor="end" letter-spacing="0.45" fill="#111" stroke="#111" stroke-width="0.2">0</text>
<text x="6.6" y="170.36" font-size="8.3" text-anchor="middle" fill="#111" textLength="61" lengthAdjust="spacingAndGlyphs" transform="rotate(-90 6.6 167.5)"><tspan font-weight="bold">% Viable</tspan><tspan stroke="#111" stroke-width="0.15"> (normalized)</tspan></text>
<line x1="45.5" y1="203.65" x2="45.5" y2="206.35" stroke="#1a1a1a" stroke-width="1"/>
<rect x="35.2" y="170.25" width="4.2" height="1.4" fill="#7a4a6a"/>
<line x1="42.5" y1="150.68" x2="42.5" y2="171.6" stroke="#1a1a1a" stroke-width="0.85"/>
<line x1="41.2" y1="150.68" x2="43.8" y2="150.68" stroke="#1a1a1a" stroke-width="0.9"/>
<line x1="41.2" y1="171.6" x2="43.8" y2="171.6" stroke="#1a1a1a" stroke-width="0.9"/>
<circle cx="42.5" cy="147.41" r="1.35" fill="#1b4569"/>
<circle cx="42.5" cy="154.6" r="1.35" fill="#1b4569"/>
<circle cx="42.5" cy="161.47" r="1.35" fill="#1b4569"/>
<circle cx="42.5" cy="169.97" r="1.35" fill="#1b4569"/>
<circle cx="42.5" cy="173.24" r="1.35" fill="#1b4569"/>
<line x1="40.7" y1="161.14" x2="44.3" y2="161.14" stroke="#1a1a1a" stroke-width="1.1"/>
<line x1="47.8" y1="155.25" x2="47.8" y2="169.97" stroke="#1a1a1a" stroke-width="0.85"/>
<line x1="46.5" y1="155.25" x2="49.1" y2="155.25" stroke="#1a1a1a" stroke-width="0.9"/>
<line x1="46.5" y1="169.97" x2="49.1" y2="169.97" stroke="#1a1a1a" stroke-width="0.9"/>
<circle cx="47.8" cy="151.33" r="1.35" fill="#bb1a3c"/>
<circle cx="47.8" cy="159.5" r="1.35" fill="#bb1a3c"/>
<circle cx="47.8" cy="163.1" r="1.35" fill="#bb1a3c"/>
<circle cx="47.8" cy="171.93" r="1.35" fill="#bb1a3c"/>
<circle cx="47.8" cy="172.59" r="1.35" fill="#bb1a3c"/>
<line x1="46" y1="163.43" x2="49.6" y2="163.43" stroke="#1a1a1a" stroke-width="1.1"/>
<line x1="53.4" y1="150.68" x2="53.4" y2="172.91" stroke="#1a1a1a" stroke-width="0.85"/>
<line x1="52.1" y1="150.68" x2="54.7" y2="150.68" stroke="#1a1a1a" stroke-width="0.9"/>
<line x1="52.1" y1="172.91" x2="54.7" y2="172.91" stroke="#1a1a1a" stroke-width="0.9"/>
<circle cx="53.4" cy="148.06" r="1.35" fill="#45b36b"/>
<circle cx="53.4" cy="151.98" r="1.35" fill="#45b36b"/>
<circle cx="53.4" cy="155.58" r="1.35" fill="#45b36b"/>
<circle cx="53.4" cy="159.5" r="1.35" fill="#45b36b"/>
<circle cx="53.4" cy="172.59" r="1.35" fill="#45b36b"/>
<line x1="51.6" y1="161.79" x2="55.2" y2="161.79" stroke="#1a1a1a" stroke-width="1.1"/>
<text x="46" y="214.1" font-size="7.6" stroke="#111" stroke-width="0.18" text-anchor="end" fill="#111" transform="rotate(-45 46 211.6)">No cytokine</text>
<line x1="70.6" y1="203.65" x2="70.6" y2="206.35" stroke="#1a1a1a" stroke-width="1"/>
<rect x="60.3" y="170.25" width="4.2" height="1.4" fill="#7a4a6a"/>
<line x1="67.6" y1="174.55" x2="67.6" y2="183.05" stroke="#1a1a1a" stroke-width="0.85"/>
<line x1="66.3" y1="174.55" x2="68.9" y2="174.55" stroke="#1a1a1a" stroke-width="0.9"/>
<line x1="66.3" y1="183.05" x2="68.9" y2="183.05" stroke="#1a1a1a" stroke-width="0.9"/>
<circle cx="67.6" cy="173.89" r="1.35" fill="#1b4569"/>
<circle cx="67.6" cy="175.53" r="1.35" fill="#1b4569"/>
<circle cx="67.6" cy="176.84" r="1.35" fill="#1b4569"/>
<circle cx="67.6" cy="178.47" r="1.35" fill="#1b4569"/>
<circle cx="67.6" cy="185.34" r="1.35" fill="#1b4569"/>
<line x1="65.8" y1="178.8" x2="69.4" y2="178.8" stroke="#1a1a1a" stroke-width="1.1"/>
<line x1="72.9" y1="175.53" x2="72.9" y2="187.3" stroke="#1a1a1a" stroke-width="0.85"/>
<line x1="71.6" y1="175.53" x2="74.2" y2="175.53" stroke="#1a1a1a" stroke-width="0.9"/>
<line x1="71.6" y1="187.3" x2="74.2" y2="187.3" stroke="#1a1a1a" stroke-width="0.9"/>
<circle cx="72.9" cy="174.55" r="1.35" fill="#bb1a3c"/>
<circle cx="72.9" cy="176.84" r="1.35" fill="#bb1a3c"/>
<circle cx="72.9" cy="180.11" r="1.35" fill="#bb1a3c"/>
<circle cx="72.9" cy="182.4" r="1.35" fill="#bb1a3c"/>
<circle cx="72.9" cy="189.26" r="1.35" fill="#bb1a3c"/>
<line x1="71.1" y1="181.41" x2="74.7" y2="181.41" stroke="#1a1a1a" stroke-width="1.1"/>
<line x1="78.5" y1="174.87" x2="78.5" y2="182.07" stroke="#1a1a1a" stroke-width="0.85"/>
<line x1="77.2" y1="174.87" x2="79.8" y2="174.87" stroke="#1a1a1a" stroke-width="0.9"/>
<line x1="77.2" y1="182.07" x2="79.8" y2="182.07" stroke="#1a1a1a" stroke-width="0.9"/>
<circle cx="78.5" cy="174.55" r="1.35" fill="#45b36b"/>
<circle cx="78.5" cy="176.18" r="1.35" fill="#45b36b"/>
<circle cx="78.5" cy="178.47" r="1.35" fill="#45b36b"/>
<circle cx="78.5" cy="181.41" r="1.35" fill="#45b36b"/>
<circle cx="78.5" cy="184.36" r="1.35" fill="#45b36b"/>
<line x1="76.7" y1="178.47" x2="80.3" y2="178.47" stroke="#1a1a1a" stroke-width="1.1"/>
<text x="71.1" y="214.1" font-size="7.6" stroke="#111" stroke-width="0.18" text-anchor="end" fill="#111" transform="rotate(-45 71.1 211.6)">IL-2</text>
<line x1="95.7" y1="203.65" x2="95.7" y2="206.35" stroke="#1a1a1a" stroke-width="1"/>
<rect x="85.4" y="170.25" width="4.2" height="1.4" fill="#7a4a6a"/>
<line x1="92.7" y1="172.59" x2="92.7" y2="183.7" stroke="#1a1a1a" stroke-width="0.85"/>
<line x1="91.4" y1="172.59" x2="94" y2="172.59" stroke="#1a1a1a" stroke-width="0.9"/>
<line x1="91.4" y1="183.7" x2="94" y2="183.7" stroke="#1a1a1a" stroke-width="0.9"/>
<circle cx="92.7" cy="172.26" r="1.35" fill="#1b4569"/>
<circle cx="92.7" cy="174.55" r="1.35" fill="#1b4569"/>
<circle cx="92.7" cy="176.84" r="1.35" fill="#1b4569"/>
<circle cx="92.7" cy="179.12" r="1.35" fill="#1b4569"/>
<circle cx="92.7" cy="187.63" r="1.35" fill="#1b4569"/>
<line x1="90.9" y1="178.14" x2="94.5" y2="178.14" stroke="#1a1a1a" stroke-width="1.1"/>
<line x1="98" y1="175.86" x2="98" y2="188.28" stroke="#1a1a1a" stroke-width="0.85"/>
<line x1="96.7" y1="175.86" x2="99.3" y2="175.86" stroke="#1a1a1a" stroke-width="0.9"/>
<line x1="96.7" y1="188.28" x2="99.3" y2="188.28" stroke="#1a1a1a" stroke-width="0.9"/>
<circle cx="98" cy="174.55" r="1.35" fill="#bb1a3c"/>
<circle cx="98" cy="176.84" r="1.35" fill="#bb1a3c"/>
<circle cx="98" cy="180.11" r="1.35" fill="#bb1a3c"/>
<circle cx="98" cy="185.34" r="1.35" fill="#bb1a3c"/>
<circle cx="98" cy="191.55" r="1.35" fill="#bb1a3c"/>
<line x1="96.2" y1="182.07" x2="99.8" y2="182.07" stroke="#1a1a1a" stroke-width="1.1"/>
<line x1="103.6" y1="172.26" x2="103.6" y2="182.07" stroke="#1a1a1a" stroke-width="0.85"/>
<line x1="102.3" y1="172.26" x2="104.9" y2="172.26" stroke="#1a1a1a" stroke-width="0.9"/>
<line x1="102.3" y1="182.07" x2="104.9" y2="182.07" stroke="#1a1a1a" stroke-width="0.9"/>
<circle cx="103.6" cy="170.95" r="1.35" fill="#45b36b"/>
<circle cx="103.6" cy="172.26" r="1.35" fill="#45b36b"/>
<circle cx="103.6" cy="174.55" r="1.35" fill="#45b36b"/>
<circle cx="103.6" cy="176.84" r="1.35" fill="#45b36b"/>
<circle cx="103.6" cy="184.68" r="1.35" fill="#45b36b"/>
<line x1="101.8" y1="177.49" x2="105.4" y2="177.49" stroke="#1a1a1a" stroke-width="1.1"/>
<text x="96.2" y="214.1" font-size="7.6" stroke="#111" stroke-width="0.18" text-anchor="end" fill="#111" transform="rotate(-45 96.2 211.6)">IL-15</text>
<line x1="120.8" y1="203.65" x2="120.8" y2="206.35" stroke="#1a1a1a" stroke-width="1"/>
<rect x="110.5" y="170.25" width="4.2" height="1.4" fill="#7a4a6a"/>
<line x1="117.8" y1="171.93" x2="117.8" y2="183.05" stroke="#1a1a1a" stroke-width="0.85"/>
<line x1="116.5" y1="171.93" x2="119.1" y2="171.93" stroke="#1a1a1a" stroke-width="0.9"/>
<line x1="116.5" y1="183.05" x2="119.1" y2="183.05" stroke="#1a1a1a" stroke-width="0.9"/>
<circle cx="117.8" cy="171.6" r="1.35" fill="#1b4569"/>
<circle cx="117.8" cy="173.24" r="1.35" fill="#1b4569"/>
<circle cx="117.8" cy="175.53" r="1.35" fill="#1b4569"/>
<circle cx="117.8" cy="177.49" r="1.35" fill="#1b4569"/>
<circle cx="117.8" cy="186.97" r="1.35" fill="#1b4569"/>
<line x1="116" y1="177.49" x2="119.6" y2="177.49" stroke="#1a1a1a" stroke-width="1.1"/>
<line x1="123.1" y1="174.87" x2="123.1" y2="187.95" stroke="#1a1a1a" stroke-width="0.85"/>
<line x1="121.8" y1="174.87" x2="124.4" y2="174.87" stroke="#1a1a1a" stroke-width="0.9"/>
<line x1="121.8" y1="187.95" x2="124.4" y2="187.95" stroke="#1a1a1a" stroke-width="0.9"/>
<circle cx="123.1" cy="174.55" r="1.35" fill="#bb1a3c"/>
<circle cx="123.1" cy="176.18" r="1.35" fill="#bb1a3c"/>
<circle cx="123.1" cy="178.47" r="1.35" fill="#bb1a3c"/>
<circle cx="123.1" cy="180.76" r="1.35" fill="#bb1a3c"/>
<circle cx="123.1" cy="190.9" r="1.35" fill="#bb1a3c"/>
<line x1="121.3" y1="181.41" x2="124.9" y2="181.41" stroke="#1a1a1a" stroke-width="1.1"/>
<line x1="128.7" y1="169.97" x2="128.7" y2="181.09" stroke="#1a1a1a" stroke-width="0.85"/>
<line x1="127.4" y1="169.97" x2="130" y2="169.97" stroke="#1a1a1a" stroke-width="0.9"/>
<line x1="127.4" y1="181.09" x2="130" y2="181.09" stroke="#1a1a1a" stroke-width="0.9"/>
<circle cx="128.7" cy="167.68" r="1.35" fill="#45b36b"/>
<circle cx="128.7" cy="170.95" r="1.35" fill="#45b36b"/>
<circle cx="128.7" cy="173.89" r="1.35" fill="#45b36b"/>
<circle cx="128.7" cy="176.84" r="1.35" fill="#45b36b"/>
<circle cx="128.7" cy="183.05" r="1.35" fill="#45b36b"/>
<line x1="126.9" y1="175.86" x2="130.5" y2="175.86" stroke="#1a1a1a" stroke-width="1.1"/>
<text x="121.3" y="214.1" font-size="7.6" stroke="#111" stroke-width="0.18" text-anchor="end" fill="#111" transform="rotate(-45 121.3 211.6)">IL-2 + IL-15</text>
<line x1="142.5" y1="143" x2="146.8" y2="143" stroke="#2e2a36" stroke-width="1.3"/>
<circle cx="144.6" cy="151.3" r="1.4" fill="#1b4569"/>
<circle cx="144.6" cy="159.5" r="1.4" fill="#bb1a3c"/>
<circle cx="144.6" cy="168.2" r="1.4" fill="#45b36b"/>
<text x="149.8" y="145.44" font-size="7.1" text-anchor="start" fill="#111" stroke="#111" stroke-width="0.16">Untreated</text>
<text x="149.8" y="153.74" font-size="7.1" text-anchor="start" fill="#111" stroke="#111" stroke-width="0.16">IL-12</text>
<text x="149.8" y="161.94" font-size="7.1" text-anchor="start" fill="#111" stroke="#111" stroke-width="0.16">IL-12 + ibrutinib</text>
<text x="149.8" y="170.64" font-size="7.1" text-anchor="start" fill="#111" stroke="#111" stroke-width="0.16">IL-12 + acalabrutinib</text>
<line x1="292.5" y1="134.4" x2="292.5" y2="204.4" stroke="#111" stroke-width="1.35"/>
<line x1="291.85" y1="203.75" x2="391.2" y2="203.75" stroke="#111" stroke-width="1.35"/>
<line x1="289.9" y1="137.9" x2="292.5" y2="137.9" stroke="#1a1a1a" stroke-width="1"/>
<text x="286.95" y="140.21" font-size="7.5" text-anchor="end" letter-spacing="0.45" fill="#111" stroke="#111" stroke-width="0.2">150</text>
<line x1="289.9" y1="159.85" x2="292.5" y2="159.85" stroke="#1a1a1a" stroke-width="1"/>
<text x="286.95" y="162.16" font-size="7.5" text-anchor="end" letter-spacing="0.45" fill="#111" stroke="#111" stroke-width="0.2">100</text>
<line x1="289.9" y1="181.8" x2="292.5" y2="181.8" stroke="#1a1a1a" stroke-width="1"/>
<text x="286.95" y="184.11" font-size="7.5" text-anchor="end" letter-spacing="0.45" fill="#111" stroke="#111" stroke-width="0.2">50</text>
<line x1="289.9" y1="203.75" x2="292.5" y2="203.75" stroke="#1a1a1a" stroke-width="1"/>
<text x="286.95" y="206.06" font-size="7.5" text-anchor="end" letter-spacing="0.45" fill="#111" stroke="#111" stroke-width="0.2">0</text>
<text x="265.3" y="170.16" font-size="8.3" text-anchor="middle" fill="#111" textLength="60.5" lengthAdjust="spacingAndGlyphs" transform="rotate(-90 265.3 167.3)"><tspan font-weight="bold">% Viable</tspan><tspan stroke="#111" stroke-width="0.15"> (normalized)</tspan></text>
<line x1="316.2" y1="203.75" x2="316.2" y2="206.45" stroke="#1a1a1a" stroke-width="1"/>
<rect x="296.3" y="159.15" width="7.2" height="1.4" fill="#4e3450"/>
<line x1="310.5" y1="169.95" x2="310.5" y2="184.87" stroke="#1a1a1a" stroke-width="0.85"/>
<line x1="308.4" y1="169.95" x2="312.6" y2="169.95" stroke="#1a1a1a" stroke-width="0.9"/>
<line x1="308.4" y1="184.87" x2="312.6" y2="184.87" stroke="#1a1a1a" stroke-width="0.9"/>
<circle cx="310.5" cy="164.24" r="1.5" fill="#1b4569"/>
<circle cx="310.5" cy="166.44" r="1.5" fill="#1b4569"/>
<circle cx="310.5" cy="169.95" r="1.5" fill="#1b4569"/>
<circle cx="310.5" cy="174.34" r="1.5" fill="#1b4569"/>
<circle cx="310.5" cy="185.31" r="1.5" fill="#1b4569"/>
<circle cx="310.5" cy="188.38" r="1.5" fill="#1b4569"/>
<circle cx="310.5" cy="191.46" r="1.5" fill="#1b4569"/>
<line x1="307" y1="177.41" x2="314" y2="177.41" stroke="#1a1a1a" stroke-width="1.1"/>
<line x1="321.5" y1="157.22" x2="321.5" y2="166.44" stroke="#1a1a1a" stroke-width="0.85"/>
<line x1="319.4" y1="157.22" x2="323.6" y2="157.22" stroke="#1a1a1a" stroke-width="0.9"/>
<line x1="319.4" y1="166.44" x2="323.6" y2="166.44" stroke="#1a1a1a" stroke-width="0.9"/>
<circle cx="321.5" cy="154.14" r="1.5" fill="#bb1a3c"/>
<circle cx="321.5" cy="158.53" r="1.5" fill="#bb1a3c"/>
<circle cx="321.5" cy="162.05" r="1.5" fill="#bb1a3c"/>
<circle cx="321.5" cy="165.12" r="1.5" fill="#bb1a3c"/>
<circle cx="321.5" cy="168.63" r="1.5" fill="#bb1a3c"/>
<line x1="318" y1="162.05" x2="325" y2="162.05" stroke="#1a1a1a" stroke-width="1.1"/>
<line x1="332.3" y1="158.09" x2="332.3" y2="180.48" stroke="#1a1a1a" stroke-width="0.85"/>
<line x1="330.2" y1="158.09" x2="334.4" y2="158.09" stroke="#1a1a1a" stroke-width="0.9"/>
<line x1="330.2" y1="180.48" x2="334.4" y2="180.48" stroke="#1a1a1a" stroke-width="0.9"/>
<circle cx="332.3" cy="153.26" r="1.5" fill="#45b36b"/>
<circle cx="332.3" cy="158.09" r="1.5" fill="#45b36b"/>
<circle cx="332.3" cy="162.05" r="1.5" fill="#45b36b"/>
<circle cx="332.3" cy="167.31" r="1.5" fill="#45b36b"/>
<circle cx="332.3" cy="173.02" r="1.5" fill="#45b36b"/>
<circle cx="332.3" cy="178.29" r="1.5" fill="#45b36b"/>
<circle cx="332.3" cy="185.31" r="1.5" fill="#45b36b"/>
<line x1="328.8" y1="169.51" x2="335.8" y2="169.51" stroke="#1a1a1a" stroke-width="1.1"/>
<polyline points="310.5,142.6 310.5,140 321.5,140 321.5,142.6" fill="none" stroke="#1a1a1a" stroke-width="1.05"/>
<circle cx="316" cy="135.9" r="1.05" fill="#1a1a1a"/>
<text x="317.6" y="214.5" font-size="7.7" stroke="#111" stroke-width="0.1" text-anchor="end" fill="#111" transform="rotate(-45 317.6 212)">Rituximab</text>
<line x1="366.9" y1="203.75" x2="366.9" y2="206.45" stroke="#1a1a1a" stroke-width="1"/>
<rect x="347" y="159.15" width="7.2" height="1.4" fill="#4e3450"/>
<line x1="361.2" y1="172.58" x2="361.2" y2="190.14" stroke="#1a1a1a" stroke-width="0.85"/>
<line x1="359.1" y1="172.58" x2="363.3" y2="172.58" stroke="#1a1a1a" stroke-width="0.9"/>
<line x1="359.1" y1="190.14" x2="363.3" y2="190.14" stroke="#1a1a1a" stroke-width="0.9"/>
<circle cx="361.2" cy="166.87" r="1.5" fill="#1b4569"/>
<circle cx="361.2" cy="173.46" r="1.5" fill="#1b4569"/>
<circle cx="361.2" cy="187.07" r="1.5" fill="#1b4569"/>
<circle cx="361.2" cy="189.26" r="1.5" fill="#1b4569"/>
<circle cx="361.2" cy="192.78" r="1.5" fill="#1b4569"/>
<line x1="357.7" y1="183.12" x2="364.7" y2="183.12" stroke="#1a1a1a" stroke-width="1.1"/>
<line x1="372.2" y1="159.41" x2="372.2" y2="172.14" stroke="#1a1a1a" stroke-width="0.85"/>
<line x1="370.1" y1="159.41" x2="374.3" y2="159.41" stroke="#1a1a1a" stroke-width="0.9"/>
<line x1="370.1" y1="172.14" x2="374.3" y2="172.14" stroke="#1a1a1a" stroke-width="0.9"/>
<circle cx="372.2" cy="155.02" r="1.5" fill="#bb1a3c"/>
<circle cx="372.2" cy="162.05" r="1.5" fill="#bb1a3c"/>
<circle cx="372.2" cy="166.44" r="1.5" fill="#bb1a3c"/>
<circle cx="372.2" cy="169.51" r="1.5" fill="#bb1a3c"/>
<circle cx="372.2" cy="174.34" r="1.5" fill="#bb1a3c"/>
<line x1="368.7" y1="166.87" x2="375.7" y2="166.87" stroke="#1a1a1a" stroke-width="1.1"/>
<line x1="383" y1="165.56" x2="383" y2="184.87" stroke="#1a1a1a" stroke-width="0.85"/>
<line x1="380.9" y1="165.56" x2="385.1" y2="165.56" stroke="#1a1a1a" stroke-width="0.9"/>
<line x1="380.9" y1="184.87" x2="385.1" y2="184.87" stroke="#1a1a1a" stroke-width="0.9"/>
<circle cx="383" cy="163.36" r="1.5" fill="#45b36b"/>
<circle cx="383" cy="167.31" r="1.5" fill="#45b36b"/>
<circle cx="383" cy="173.02" r="1.5" fill="#45b36b"/>
<circle cx="383" cy="179.17" r="1.5" fill="#45b36b"/>
<circle cx="383" cy="184.43" r="1.5" fill="#45b36b"/>
<circle cx="383" cy="189.26" r="1.5" fill="#45b36b"/>
<line x1="379.5" y1="176.53" x2="386.5" y2="176.53" stroke="#1a1a1a" stroke-width="1.1"/>
<polyline points="361.2,142.6 361.2,140 372.2,140 372.2,142.6" fill="none" stroke="#1a1a1a" stroke-width="1.05"/>
<circle cx="366.7" cy="135.9" r="1.05" fill="#1a1a1a"/>
<text x="368.3" y="214.5" font-size="7.7" stroke="#111" stroke-width="0.1" text-anchor="end" fill="#111" transform="rotate(-45 368.3 212)">Obinutuzumab</text>
<line x1="401.9" y1="143" x2="405.9" y2="143" stroke="#3a2c50" stroke-width="1.3"/>
<circle cx="403.9" cy="151.5" r="1.4" fill="#1b4569"/>
<circle cx="403.9" cy="159.8" r="1.4" fill="#bb1a3c"/>
<circle cx="403.9" cy="168.3" r="1.4" fill="#45b36b"/>
<text x="408.8" y="145.44" font-size="7.1" text-anchor="start" fill="#111" stroke="#111" stroke-width="0.16">Untreated</text>
<text x="408.8" y="153.94" font-size="7.1" text-anchor="start" fill="#111" stroke="#111" stroke-width="0.16">mAb</text>
<text x="408.8" y="162.24" font-size="7.1" text-anchor="start" fill="#111" stroke="#111" stroke-width="0.16">mAb + ibrutinib</text>
<text x="408.8" y="170.74" font-size="7.1" text-anchor="start" fill="#111" stroke="#111" stroke-width="0.16">mAb + acalabrutinib</text>
<text x="4.1" y="266.99" font-size="11.9" text-anchor="middle" font-weight="bold" fill="#000">C</text>
<polyline points="10.8,278.4 10.8,276 64.6,276 64.6,278.4" fill="none" stroke="#1a1a1a" stroke-width="1.05"/>
<polyline points="66.2,278.4 66.2,276 134.9,276 134.9,278.4" fill="none" stroke="#1a1a1a" stroke-width="1.05"/>
<text x="38.8" y="272.98" font-size="7.8" text-anchor="middle" fill="#111" stroke="#111" stroke-width="0.16">NNK</text>
<text x="100.5" y="272.88" font-size="7.8" text-anchor="middle" fill="#111" stroke="#111" stroke-width="0.16">ND-XNK</text>
<rect x="9.4" y="283" width="130.4" height="8.4" fill="#7c7c7c"/>
<rect x="13.3" y="286.6" width="14.4" height="1.6" fill="#3c3c3c" rx="0.8" filter="url(#bl)"/>
<rect x="30.9" y="286.35" width="14.4" height="1.9" fill="#333" rx="0.95" filter="url(#bl)"/>
<rect x="48.5" y="286.55" width="14.4" height="1.5" fill="#444" rx="0.75" filter="url(#bl)"/>
<text x="142.2" y="290.35" font-size="8" text-anchor="start" fill="#111" stroke="#111" stroke-width="0.16">BTK</text>
<rect x="9.4" y="294.8" width="130.4" height="8.6" fill="#8c8c8c"/>
<rect x="28.4" y="294.8" width="1.8" height="8.6" fill="#b0b0b0" opacity="0.55"/>
<rect x="46" y="294.8" width="1.8" height="8.6" fill="#b0b0b0" opacity="0.55"/>
<rect x="63.7" y="294.8" width="1.8" height="8.6" fill="#b0b0b0" opacity="0.55"/>
<rect x="81.4" y="294.8" width="1.8" height="8.6" fill="#b0b0b0" opacity="0.55"/>
<rect x="99" y="294.8" width="1.8" height="8.6" fill="#b0b0b0" opacity="0.55"/>
<rect x="116.5" y="294.8" width="1.8" height="8.6" fill="#b0b0b0" opacity="0.55"/>
<rect x="13.3" y="297.3" width="14.4" height="3" fill="#848484" rx="1.5" filter="url(#bl)"/>
<rect x="30.9" y="296.7" width="14.4" height="2.8" fill="#6a6a6a" rx="1.4" filter="url(#bl)"/>
<rect x="48.5" y="297.3" width="14.4" height="3" fill="#848484" rx="1.5" filter="url(#bl)"/>
<rect x="66.3" y="296.6" width="14.4" height="2.8" fill="#686868" rx="1.4" filter="url(#bl)"/>
<rect x="83.9" y="296.4" width="14.4" height="2.8" fill="#646464" rx="1.4" filter="url(#bl)"/>
<rect x="101.5" y="296.8" width="14.4" height="2.8" fill="#727272" rx="1.4" filter="url(#bl)"/>
<rect x="118.9" y="296.8" width="14.4" height="2.8" fill="#727272" rx="1.4" filter="url(#bl)"/>
<text x="142.2" y="301.95" font-size="8" text-anchor="start" fill="#111" stroke="#111" stroke-width="0.16">RLK</text>
<text x="19.9" y="310.18" font-size="6.35" text-anchor="middle" fill="#111" stroke="#111" stroke-width="0.22">1.00</text>
<text x="37.5" y="310.18" font-size="6.35" text-anchor="middle" fill="#111" stroke="#111" stroke-width="0.22">2.79</text>
<text x="55.1" y="310.18" font-size="6.35" text-anchor="middle" fill="#111" stroke="#111" stroke-width="0.22">0.69</text>
<text x="72.9" y="310.18" font-size="6.35" text-anchor="middle" fill="#111" stroke="#111" stroke-width="0.22">2.88</text>
<text x="90.5" y="310.18" font-size="6.35" text-anchor="middle" fill="#111" stroke="#111" stroke-width="0.22">3.48</text>
<text x="108.1" y="310.18" font-size="6.35" text-anchor="middle" fill="#111" stroke="#111" stroke-width="0.22">2.25</text>
<text x="125.5" y="310.18" font-size="6.35" text-anchor="middle" fill="#111" stroke="#111" stroke-width="0.22">1.96</text>
<rect x="9.4" y="311.7" width="130.4" height="7" fill="#6a6a6a"/>
<rect x="12.75" y="313.4" width="15.5" height="3.4" fill="#3a3a3a" rx="1.5" filter="url(#bl)"/>
<rect x="30.35" y="313.4" width="15.5" height="3.4" fill="#3a3a3a" rx="1.5" filter="url(#bl)"/>
<rect x="47.95" y="313.4" width="15.5" height="3.4" fill="#3a3a3a" rx="1.5" filter="url(#bl)"/>
<rect x="65.75" y="313.4" width="15.5" height="3.4" fill="#3a3a3a" rx="1.5" filter="url(#bl)"/>
<rect x="83.35" y="313.4" width="15.5" height="3.4" fill="#3a3a3a" rx="1.5" filter="url(#bl)"/>
<rect x="100.95" y="313.4" width="15.5" height="3.4" fill="#3a3a3a" rx="1.5" filter="url(#bl)"/>
<rect x="118.35" y="313.4" width="15.5" height="3.4" fill="#3a3a3a" rx="1.5" filter="url(#bl)"/>
<text x="142.2" y="317.35" font-size="8" text-anchor="start" fill="#111" stroke="#111" stroke-width="0.16">Actin</text>
<rect x="9.4" y="328.6" width="130.4" height="8.7" fill="#747474"/>
<rect x="28.4" y="328.6" width="1.8" height="8.7" fill="#8e8e8e" opacity="0.55"/>
<rect x="46" y="328.6" width="1.8" height="8.7" fill="#8e8e8e" opacity="0.55"/>
<rect x="63.7" y="328.6" width="1.8" height="8.7" fill="#8e8e8e" opacity="0.55"/>
<rect x="81.4" y="328.6" width="1.8" height="8.7" fill="#8e8e8e" opacity="0.55"/>
<rect x="99" y="328.6" width="1.8" height="8.7" fill="#8e8e8e" opacity="0.55"/>
<rect x="116.5" y="328.6" width="1.8" height="8.7" fill="#8e8e8e" opacity="0.55"/>
<rect x="13.3" y="331.1" width="14.4" height="3" fill="#6c6c6c" rx="1.5" filter="url(#bl)"/>
<rect x="30.9" y="331.2" width="14.4" height="2" fill="#4e4e4e" rx="1" filter="url(#bl)"/>
<rect x="48.5" y="331.1" width="14.4" height="3" fill="#6c6c6c" rx="1.5" filter="url(#bl)"/>
<rect x="66.3" y="330.8" width="14.4" height="2.8" fill="#575757" rx="1.4" filter="url(#bl)"/>
<rect x="83.9" y="330.8" width="14.4" height="2.8" fill="#5a5a5a" rx="1.4" filter="url(#bl)"/>
<rect x="101.5" y="330.8" width="14.4" height="2.8" fill="#5e5e5e" rx="1.4" filter="url(#bl)"/>
<rect x="118.9" y="330.8" width="14.4" height="2.8" fill="#5c5c5c" rx="1.4" filter="url(#bl)"/>
<text x="142.2" y="336.05" font-size="8" text-anchor="start" fill="#111" stroke="#111" stroke-width="0.16">TEC</text>
<text x="19.9" y="343.88" font-size="6.35" text-anchor="middle" fill="#111" stroke="#111" stroke-width="0.22">1.00</text>
<text x="37.5" y="343.88" font-size="6.35" text-anchor="middle" fill="#111" stroke="#111" stroke-width="0.22">1.04</text>
<text x="55.1" y="343.88" font-size="6.35" text-anchor="middle" fill="#111" stroke="#111" stroke-width="0.22">0.40</text>
<text x="72.9" y="343.88" font-size="6.35" text-anchor="middle" fill="#111" stroke="#111" stroke-width="0.22">2.70</text>
<text x="90.5" y="343.88" font-size="6.35" text-anchor="middle" fill="#111" stroke="#111" stroke-width="0.22">1.60</text>
<text x="108.1" y="343.88" font-size="6.35" text-anchor="middle" fill="#111" stroke="#111" stroke-width="0.22">1.35</text>
<text x="125.5" y="343.88" font-size="6.35" text-anchor="middle" fill="#111" stroke="#111" stroke-width="0.22">1.46</text>
<rect x="9.4" y="345.4" width="130.4" height="6.4" fill="#868686"/>
<rect x="13.3" y="347.3" width="14.4" height="2.2" fill="#707070" rx="1.1" filter="url(#bl)"/>
<rect x="30.9" y="346.9" width="14.4" height="2.6" fill="#505050" rx="1.3" filter="url(#bl)"/>
<rect x="48.5" y="346.8" width="14.4" height="2.8" fill="#444" rx="1.4" filter="url(#bl)"/>
<rect x="66.3" y="347.3" width="14.4" height="2.2" fill="#646464" rx="1.1" filter="url(#bl)"/>
<rect x="83.9" y="347" width="14.4" height="2.4" fill="#545454" rx="1.2" filter="url(#bl)"/>
<rect x="101.5" y="347" width="14.4" height="2.4" fill="#585858" rx="1.2" filter="url(#bl)"/>
<rect x="118.9" y="347" width="14.4" height="2.4" fill="#525252" rx="1.2" filter="url(#bl)"/>
<text x="142.2" y="351.75" font-size="8" text-anchor="start" fill="#111" stroke="#111" stroke-width="0.16">Actin</text>
<rect x="9.4" y="363" width="130.4" height="7.9" fill="#6e6e6e"/>
<rect x="13.3" y="365.9" width="14.4" height="2.2" fill="#2e2e2e" rx="1.1" filter="url(#bl)"/>
<rect x="30.9" y="365.8" width="14.4" height="2.4" fill="#262626" rx="1.2" filter="url(#bl)"/>
<rect x="48.5" y="366" width="14.4" height="2" fill="#3a3a3a" rx="1" filter="url(#bl)"/>
<rect x="66.3" y="366.05" width="14.4" height="1.9" fill="#404040" rx="0.95" filter="url(#bl)"/>
<rect x="83.9" y="365.65" width="14.4" height="2.3" fill="#303030" rx="1.15" filter="url(#bl)"/>
<rect x="101.5" y="365.95" width="14.4" height="2.1" fill="#383838" rx="1.05" filter="url(#bl)"/>
<rect x="118.9" y="365.95" width="14.4" height="2.1" fill="#363636" rx="1.05" filter="url(#bl)"/>
<text x="142.2" y="369.75" font-size="8" text-anchor="start" fill="#111" stroke="#111" stroke-width="0.16">ITK</text>
<text x="19.9" y="378.08" font-size="6.35" text-anchor="middle" fill="#111" stroke="#111" stroke-width="0.22">1.00</text>
<text x="37.5" y="378.08" font-size="6.35" text-anchor="middle" fill="#111" stroke="#111" stroke-width="0.22">2.00</text>
<text x="55.1" y="378.08" font-size="6.35" text-anchor="middle" fill="#111" stroke="#111" stroke-width="0.22">0.61</text>
<text x="72.9" y="378.08" font-size="6.35" text-anchor="middle" fill="#111" stroke="#111" stroke-width="0.22">0.58</text>
<text x="90.5" y="378.08" font-size="6.35" text-anchor="middle" fill="#111" stroke="#111" stroke-width="0.22">1.23</text>
<text x="108.1" y="378.08" font-size="6.35" text-anchor="middle" fill="#111" stroke="#111" stroke-width="0.22">0.69</text>
<text x="125.5" y="378.08" font-size="6.35" text-anchor="middle" fill="#111" stroke="#111" stroke-width="0.22">0.78</text>
<rect x="9.4" y="379.8" width="130.4" height="6.5" fill="#909090"/>
<rect x="12.75" y="381.8" width="15.5" height="2" fill="#747474" rx="1" filter="url(#bl)"/>
<rect x="30.35" y="381.8" width="15.5" height="2" fill="#747474" rx="1" filter="url(#bl)"/>
<rect x="47.95" y="381.8" width="15.5" height="2" fill="#747474" rx="1" filter="url(#bl)"/>
<rect x="65.75" y="381.8" width="15.5" height="2" fill="#747474" rx="1" filter="url(#bl)"/>
<rect x="83.35" y="381.8" width="15.5" height="2" fill="#747474" rx="1" filter="url(#bl)"/>
<rect x="100.95" y="381.8" width="15.5" height="2" fill="#747474" rx="1" filter="url(#bl)"/>
<rect x="118.35" y="381.8" width="15.5" height="2" fill="#747474" rx="1" filter="url(#bl)"/>
<text x="142.2" y="385.85" font-size="8" text-anchor="start" fill="#111" stroke="#111" stroke-width="0.16">Actin</text>
<polyline points="10.8,389.1 10.8,392.4 64.6,392.4 64.6,389.1" fill="none" stroke="#1a1a1a" stroke-width="1.05"/>
<polyline points="66,389.1 66,392.4 134.9,392.4 134.9,389.1" fill="none" stroke="#1a1a1a" stroke-width="1.05"/>
<text x="38.7" y="401.18" font-size="7.8" text-anchor="middle" fill="#111" stroke="#111" stroke-width="0.16">NNK</text>
<text x="100.6" y="401.18" font-size="7.8" text-anchor="middle" fill="#111" stroke="#111" stroke-width="0.16">ND-XNK</text>
<text x="196.7" y="266.99" font-size="11.9" text-anchor="middle" font-weight="bold" fill="#000">D</text>
<line x1="226.5" y1="284.5" x2="226.5" y2="349.15" stroke="#111" stroke-width="1.35"/>
<line x1="225.85" y1="348.5" x2="319.2" y2="348.5" stroke="#111" stroke-width="1.35"/>
<line x1="223.9" y1="289.4" x2="226.5" y2="289.4" stroke="#1a1a1a" stroke-width="1"/>
<text x="220.95" y="291.71" font-size="7.5" text-anchor="end" letter-spacing="0.45" fill="#111" stroke="#111" stroke-width="0.2">100</text>
<line x1="223.9" y1="318.95" x2="226.5" y2="318.95" stroke="#1a1a1a" stroke-width="1"/>
<text x="220.95" y="321.26" font-size="7.5" text-anchor="end" letter-spacing="0.45" fill="#111" stroke="#111" stroke-width="0.2">50</text>
<line x1="223.9" y1="348.5" x2="226.5" y2="348.5" stroke="#1a1a1a" stroke-width="1"/>
<text x="220.95" y="350.81" font-size="7.5" text-anchor="end" letter-spacing="0.45" fill="#111" stroke="#111" stroke-width="0.2">0</text>
<line x1="226.5" y1="348.5" x2="226.5" y2="351.1" stroke="#1a1a1a" stroke-width="1"/>
<text x="227.03" y="360.01" font-size="7.5" text-anchor="middle" letter-spacing="0.45" fill="#111" stroke="#111" stroke-width="0.2">0</text>
<line x1="256.7" y1="348.5" x2="256.7" y2="351.1" stroke="#1a1a1a" stroke-width="1"/>
<text x="257.23" y="360.01" font-size="7.5" text-anchor="middle" letter-spacing="0.45" fill="#111" stroke="#111" stroke-width="0.2">200</text>
<line x1="286.9" y1="348.5" x2="286.9" y2="351.1" stroke="#1a1a1a" stroke-width="1"/>
<text x="287.43" y="360.01" font-size="7.5" text-anchor="middle" letter-spacing="0.45" fill="#111" stroke="#111" stroke-width="0.2">400</text>
<line x1="317.1" y1="348.5" x2="317.1" y2="351.1" stroke="#1a1a1a" stroke-width="1"/>
<text x="317.63" y="360.01" font-size="7.5" text-anchor="middle" letter-spacing="0.45" fill="#111" stroke="#111" stroke-width="0.2">600</text>
<text x="273.4" y="372.19" font-size="8.4" text-anchor="middle" font-weight="bold" fill="#111" textLength="47.2" lengthAdjust="spacingAndGlyphs">Venetoclax (nM)</text>
<text x="203.4" y="320.26" font-size="8.6" text-anchor="middle" font-weight="bold" fill="#111" textLength="26.4" lengthAdjust="spacingAndGlyphs" transform="rotate(-90 203.4 317.3)">% Viable</text>
<text x="273.5" y="273.19" font-size="8.7" text-anchor="middle" fill="#111" stroke="#111" stroke-width="0.16">Venetoclax</text>
<polyline points="229.5,284.4 229.5,281.5 317,281.5 317,284.4" fill="none" stroke="#1a1a1a" stroke-width="1.05"/>
<circle cx="273.7" cy="277.1" r="1.05" fill="#1a1a1a"/>
<polyline points="226.5,289.4 230.28,289.4 234.05,289.4 241.6,289.4 249.15,289.4 256.7,289.4 271.8,289.4 286.9,289.4 317.1,289.7" fill="none" stroke="#bb1a3c" stroke-width="1.1" stroke-linejoin="round"/>
<line x1="230.28" y1="287" x2="230.28" y2="291.8" stroke="#bb1a3c" stroke-width="0.8"/>
<line x1="228.97" y1="287" x2="231.58" y2="287" stroke="#bb1a3c" stroke-width="0.8"/>
<line x1="228.97" y1="291.8" x2="231.58" y2="291.8" stroke="#bb1a3c" stroke-width="0.8"/>
<rect x="228.58" y="287.7" width="3.4" height="3.4" fill="#bb1a3c" rx="0.8"/>
<line x1="234.05" y1="287" x2="234.05" y2="291.8" stroke="#bb1a3c" stroke-width="0.8"/>
<line x1="232.75" y1="287" x2="235.35" y2="287" stroke="#bb1a3c" stroke-width="0.8"/>
<line x1="232.75" y1="291.8" x2="235.35" y2="291.8" stroke="#bb1a3c" stroke-width="0.8"/>
<rect x="232.35" y="287.7" width="3.4" height="3.4" fill="#bb1a3c" rx="0.8"/>
<line x1="241.6" y1="287" x2="241.6" y2="291.8" stroke="#bb1a3c" stroke-width="0.8"/>
<line x1="240.3" y1="287" x2="242.9" y2="287" stroke="#bb1a3c" stroke-width="0.8"/>
<line x1="240.3" y1="291.8" x2="242.9" y2="291.8" stroke="#bb1a3c" stroke-width="0.8"/>
<rect x="239.9" y="287.7" width="3.4" height="3.4" fill="#bb1a3c" rx="0.8"/>
<line x1="249.15" y1="287" x2="249.15" y2="291.8" stroke="#bb1a3c" stroke-width="0.8"/>
<line x1="247.85" y1="287" x2="250.45" y2="287" stroke="#bb1a3c" stroke-width="0.8"/>
<line x1="247.85" y1="291.8" x2="250.45" y2="291.8" stroke="#bb1a3c" stroke-width="0.8"/>
<rect x="247.45" y="287.7" width="3.4" height="3.4" fill="#bb1a3c" rx="0.8"/>
<line x1="256.7" y1="287" x2="256.7" y2="291.8" stroke="#bb1a3c" stroke-width="0.8"/>
<line x1="255.4" y1="287" x2="258" y2="287" stroke="#bb1a3c" stroke-width="0.8"/>
<line x1="255.4" y1="291.8" x2="258" y2="291.8" stroke="#bb1a3c" stroke-width="0.8"/>
<rect x="255" y="287.7" width="3.4" height="3.4" fill="#bb1a3c" rx="0.8"/>
<line x1="271.8" y1="287" x2="271.8" y2="291.8" stroke="#bb1a3c" stroke-width="0.8"/>
<line x1="270.5" y1="287" x2="273.1" y2="287" stroke="#bb1a3c" stroke-width="0.8"/>
<line x1="270.5" y1="291.8" x2="273.1" y2="291.8" stroke="#bb1a3c" stroke-width="0.8"/>
<rect x="270.1" y="287.7" width="3.4" height="3.4" fill="#bb1a3c" rx="0.8"/>
<line x1="286.9" y1="287" x2="286.9" y2="291.8" stroke="#bb1a3c" stroke-width="0.8"/>
<line x1="285.6" y1="287" x2="288.2" y2="287" stroke="#bb1a3c" stroke-width="0.8"/>
<line x1="285.6" y1="291.8" x2="288.2" y2="291.8" stroke="#bb1a3c" stroke-width="0.8"/>
<rect x="285.2" y="287.7" width="3.4" height="3.4" fill="#bb1a3c" rx="0.8"/>
<line x1="317.1" y1="287.3" x2="317.1" y2="292.1" stroke="#bb1a3c" stroke-width="0.8"/>
<line x1="315.8" y1="287.3" x2="318.4" y2="287.3" stroke="#bb1a3c" stroke-width="0.8"/>
<line x1="315.8" y1="292.1" x2="318.4" y2="292.1" stroke="#bb1a3c" stroke-width="0.8"/>
<rect x="315.4" y="288" width="3.4" height="3.4" fill="#bb1a3c" rx="0.8"/>
<polyline points="226.5,289.4 230.28,295.9 234.05,300.27 241.6,301.81 249.15,305.36 256.7,306.13 271.8,308.49 286.9,309.67 317.1,311.86" fill="none" stroke="#1b4569" stroke-width="1.1" stroke-linejoin="round"/>
<line x1="226.5" y1="287.6" x2="226.5" y2="291.2" stroke="#1b4569" stroke-width="0.8"/>
<line x1="225.2" y1="287.6" x2="227.8" y2="287.6" stroke="#1b4569" stroke-width="0.8"/>
<line x1="225.2" y1="291.2" x2="227.8" y2="291.2" stroke="#1b4569" stroke-width="0.8"/>
<circle cx="226.5" cy="289.4" r="1.6" fill="#1b4569"/>
<line x1="230.28" y1="294.1" x2="230.28" y2="297.7" stroke="#1b4569" stroke-width="0.8"/>
<line x1="228.97" y1="294.1" x2="231.58" y2="294.1" stroke="#1b4569" stroke-width="0.8"/>
<line x1="228.97" y1="297.7" x2="231.58" y2="297.7" stroke="#1b4569" stroke-width="0.8"/>
<circle cx="230.28" cy="295.9" r="1.6" fill="#1b4569"/>
<line x1="234.05" y1="298.47" x2="234.05" y2="302.07" stroke="#1b4569" stroke-width="0.8"/>
<line x1="232.75" y1="298.47" x2="235.35" y2="298.47" stroke="#1b4569" stroke-width="0.8"/>
<line x1="232.75" y1="302.07" x2="235.35" y2="302.07" stroke="#1b4569" stroke-width="0.8"/>
<circle cx="234.05" cy="300.27" r="1.6" fill="#1b4569"/>
<line x1="241.6" y1="300.01" x2="241.6" y2="303.61" stroke="#1b4569" stroke-width="0.8"/>
<line x1="240.3" y1="300.01" x2="242.9" y2="300.01" stroke="#1b4569" stroke-width="0.8"/>
<line x1="240.3" y1="303.61" x2="242.9" y2="303.61" stroke="#1b4569" stroke-width="0.8"/>
<circle cx="241.6" cy="301.81" r="1.6" fill="#1b4569"/>
<line x1="249.15" y1="303.56" x2="249.15" y2="307.16" stroke="#1b4569" stroke-width="0.8"/>
<line x1="247.85" y1="303.56" x2="250.45" y2="303.56" stroke="#1b4569" stroke-width="0.8"/>
<line x1="247.85" y1="307.16" x2="250.45" y2="307.16" stroke="#1b4569" stroke-width="0.8"/>
<circle cx="249.15" cy="305.36" r="1.6" fill="#1b4569"/>
<line x1="256.7" y1="304.33" x2="256.7" y2="307.93" stroke="#1b4569" stroke-width="0.8"/>
<line x1="255.4" y1="304.33" x2="258" y2="304.33" stroke="#1b4569" stroke-width="0.8"/>
<line x1="255.4" y1="307.93" x2="258" y2="307.93" stroke="#1b4569" stroke-width="0.8"/>
<circle cx="256.7" cy="306.13" r="1.6" fill="#1b4569"/>
<line x1="271.8" y1="306.69" x2="271.8" y2="310.29" stroke="#1b4569" stroke-width="0.8"/>
<line x1="270.5" y1="306.69" x2="273.1" y2="306.69" stroke="#1b4569" stroke-width="0.8"/>
<line x1="270.5" y1="310.29" x2="273.1" y2="310.29" stroke="#1b4569" stroke-width="0.8"/>
<circle cx="271.8" cy="308.49" r="1.6" fill="#1b4569"/>
<line x1="286.9" y1="307.87" x2="286.9" y2="311.47" stroke="#1b4569" stroke-width="0.8"/>
<line x1="285.6" y1="307.87" x2="288.2" y2="307.87" stroke="#1b4569" stroke-width="0.8"/>
<line x1="285.6" y1="311.47" x2="288.2" y2="311.47" stroke="#1b4569" stroke-width="0.8"/>
<circle cx="286.9" cy="309.67" r="1.6" fill="#1b4569"/>
<line x1="317.1" y1="310.06" x2="317.1" y2="313.66" stroke="#1b4569" stroke-width="0.8"/>
<line x1="315.8" y1="310.06" x2="318.4" y2="310.06" stroke="#1b4569" stroke-width="0.8"/>
<line x1="315.8" y1="313.66" x2="318.4" y2="313.66" stroke="#1b4569" stroke-width="0.8"/>
<circle cx="317.1" cy="311.86" r="1.6" fill="#1b4569"/>
<line x1="232.2" y1="334.1" x2="240.3" y2="334.1" stroke="#bb1a3c" stroke-width="1.1"/>
<rect x="234.9" y="332.8" width="2.6" height="2.6" fill="#bb1a3c"/>
<text x="243.8" y="336.55" font-size="7.4" text-anchor="start" fill="#111" stroke="#111" stroke-width="0.16">XNK</text>
<line x1="232.2" y1="341.9" x2="240.3" y2="341.9" stroke="#1b4569" stroke-width="1.1"/>
<circle cx="236.2" cy="341.9" r="1.3" fill="#1b4569"/>
<text x="243.8" y="344.35" font-size="7.4" text-anchor="start" fill="#111" stroke="#111" stroke-width="0.16">NNK</text>
<text x="360.7" y="267.8" font-size="12.2" text-anchor="middle" font-weight="bold" fill="#000">E</text>
<polyline points="365.3,278.3 365.3,275.6 420.4,275.6 420.4,278.3" fill="none" stroke="#1a1a1a" stroke-width="1.05"/>
<polyline points="422.2,278.3 422.2,275.6 491.6,275.6 491.6,278.3" fill="none" stroke="#1a1a1a" stroke-width="1.05"/>
<text x="393.2" y="272.78" font-size="7.8" text-anchor="middle" fill="#111" stroke="#111" stroke-width="0.16">NNK</text>
<text x="456.4" y="272.78" font-size="7.8" text-anchor="middle" fill="#111" stroke="#111" stroke-width="0.16">ND-XNK</text>
<rect x="363.7" y="281.4" width="131.1" height="13" fill="#9e9e9e"/>
<rect x="368.2" y="287.5" width="13.6" height="2" fill="#1e1e1e" rx="1" filter="url(#bl)"/>
<rect x="386.5" y="287.5" width="13.6" height="2" fill="#1e1e1e" rx="1" filter="url(#bl)"/>
<rect x="404.5" y="287.65" width="13.6" height="1.7" fill="#2a2a2a" rx="0.85" filter="url(#bl)"/>
<rect x="423" y="287.5" width="13.6" height="2" fill="#222" rx="1" filter="url(#bl)"/>
<rect x="440.4" y="287.5" width="13.6" height="2" fill="#222" rx="1" filter="url(#bl)"/>
<rect x="457.7" y="287.4" width="13.6" height="2.2" fill="#1e1e1e" rx="1.1" filter="url(#bl)"/>
<rect x="475.3" y="287" width="13.6" height="2.8" fill="#161616" rx="1.4" filter="url(#bl)"/>
<text x="497.7" y="290.25" font-size="8" text-anchor="start" fill="#111" stroke="#111" stroke-width="0.16">Bcl-2</text>
<text x="374.3" y="300.5" font-size="6.4" text-anchor="middle" fill="#111" stroke="#111" stroke-width="0.12">1.00</text>
<text x="392.6" y="300.5" font-size="6.4" text-anchor="middle" fill="#111" stroke="#111" stroke-width="0.12">1.09</text>
<text x="410.6" y="300.5" font-size="6.4" text-anchor="middle" fill="#111" stroke="#111" stroke-width="0.12">0.59</text>
<text x="429.1" y="300.5" font-size="6.4" text-anchor="middle" fill="#111" stroke="#111" stroke-width="0.12">0.93</text>
<text x="446.5" y="300.5" font-size="6.4" text-anchor="middle" fill="#111" stroke="#111" stroke-width="0.12">0.94</text>
<text x="463.8" y="300.5" font-size="6.4" text-anchor="middle" fill="#111" stroke="#111" stroke-width="0.12">1.26</text>
<text x="481.4" y="300.5" font-size="6.4" text-anchor="middle" fill="#111" stroke="#111" stroke-width="0.12">1.66</text>
<rect x="363.7" y="302.6" width="131.1" height="12.3" fill="#b0b0b0"/>
<rect x="368.2" y="308.3" width="13.6" height="1.8" fill="#a2a2a2" rx="0.9" filter="url(#bl)"/>
<rect x="386.5" y="308" width="13.6" height="2.4" fill="#2e2e2e" rx="1.2" filter="url(#bl)"/>
<rect x="404.5" y="308.3" width="13.6" height="1.8" fill="#a6a6a6" rx="0.9" filter="url(#bl)"/>
<rect x="423" y="307.55" width="13.6" height="3.3" fill="#141414" rx="1.5" filter="url(#bl)"/>
<rect x="440.4" y="307.65" width="13.6" height="3.1" fill="#1a1a1a" rx="1.5" filter="url(#bl)"/>
<rect x="457.7" y="307.95" width="13.6" height="2.5" fill="#222" rx="1.25" filter="url(#bl)"/>
<rect x="475.3" y="307.85" width="13.6" height="2.7" fill="#1c1c1c" rx="1.35" filter="url(#bl)"/>
<text x="497.7" y="311.85" font-size="8" text-anchor="start" fill="#111" stroke="#111" stroke-width="0.16">Mcl-1</text>
<text x="374.3" y="321.4" font-size="6.4" text-anchor="middle" fill="#111" stroke="#111" stroke-width="0.12">1.00</text>
<text x="392.6" y="321.4" font-size="6.4" text-anchor="middle" fill="#111" stroke="#111" stroke-width="0.12">8.59</text>
<text x="410.6" y="321.4" font-size="6.4" text-anchor="middle" fill="#111" stroke="#111" stroke-width="0.12">0.83</text>
<text x="429.1" y="321.4" font-size="6.4" text-anchor="middle" fill="#111" stroke="#111" stroke-width="0.12">13.47</text>
<text x="446.5" y="321.4" font-size="6.4" text-anchor="middle" fill="#111" stroke="#111" stroke-width="0.12">13.91</text>
<text x="463.8" y="321.4" font-size="6.4" text-anchor="middle" fill="#111" stroke="#111" stroke-width="0.12">11.79</text>
<text x="481.4" y="321.4" font-size="6.4" text-anchor="middle" fill="#111" stroke="#111" stroke-width="0.12">15.14</text>
<rect x="363.7" y="324.4" width="131.1" height="9.8" fill="#a0a0a0"/>
<rect x="368.2" y="328.65" width="13.6" height="2.7" fill="#2a2a2a" rx="1.35" filter="url(#bl)"/>
<rect x="386.5" y="328.65" width="13.6" height="2.7" fill="#2e2e2e" rx="1.35" filter="url(#bl)"/>
<rect x="404.5" y="328.25" width="13.6" height="3.5" fill="#141414" rx="1.5" filter="url(#bl)"/>
<rect x="423" y="328.85" width="13.6" height="2.3" fill="#3a3a3a" rx="1.15" filter="url(#bl)"/>
<rect x="440.4" y="328.75" width="13.6" height="2.5" fill="#333" rx="1.25" filter="url(#bl)"/>
<rect x="457.7" y="328.75" width="13.6" height="2.5" fill="#333" rx="1.25" filter="url(#bl)"/>
<rect x="475.3" y="328.45" width="13.6" height="2.7" fill="#2a2a2a" rx="1.35" filter="url(#bl)"/>
<text x="497.7" y="332.75" font-size="8" text-anchor="start" fill="#111" stroke="#111" stroke-width="0.16">Actin</text>
<rect x="363.7" y="348.8" width="131.1" height="12.6" fill="#a4a4a4"/>
<rect x="368.2" y="353.7" width="13.6" height="2.8" fill="#181818" rx="1.4" filter="url(#bl)"/>
<rect x="386.5" y="353.7" width="13.6" height="2.8" fill="#1e1e1e" rx="1.4" filter="url(#bl)"/>
<rect x="404.5" y="354.6" width="13.6" height="2.2" fill="#2a2a2a" rx="1.1" filter="url(#bl)"/>
<rect x="423" y="353.8" width="13.6" height="2.6" fill="#969696" rx="1.3" filter="url(#bl)"/>
<rect x="440.4" y="354.1" width="13.6" height="2" fill="#9e9e9e" rx="1" filter="url(#bl)"/>
<rect x="457.7" y="354.1" width="13.6" height="2" fill="#9e9e9e" rx="1" filter="url(#bl)"/>
<rect x="475.3" y="352.05" width="13.6" height="5.5" fill="#8a8a8a" rx="1.5" filter="url(#bl)"/>
<text x="497.7" y="359.05" font-size="8" text-anchor="start" fill="#111" stroke="#111" stroke-width="0.16">Bim</text>
<text x="374.3" y="368.9" font-size="6.4" text-anchor="middle" fill="#111" stroke="#111" stroke-width="0.12">1.00</text>
<text x="392.6" y="368.9" font-size="6.4" text-anchor="middle" fill="#111" stroke="#111" stroke-width="0.12">0.63</text>
<text x="410.6" y="368.9" font-size="6.4" text-anchor="middle" fill="#111" stroke="#111" stroke-width="0.12">0.40</text>
<text x="429.1" y="368.9" font-size="6.4" text-anchor="middle" fill="#111" stroke="#111" stroke-width="0.12">0.17</text>
<text x="446.5" y="368.9" font-size="6.4" text-anchor="middle" fill="#111" stroke="#111" stroke-width="0.12">0.05</text>
<text x="463.8" y="368.9" font-size="6.4" text-anchor="middle" fill="#111" stroke="#111" stroke-width="0.12">0.05</text>
<text x="481.4" y="368.9" font-size="6.4" text-anchor="middle" fill="#111" stroke="#111" stroke-width="0.12">0.36</text>
<rect x="363.7" y="372.5" width="131.1" height="9.8" fill="#9a9a9a"/>
<rect x="368.2" y="376.4" width="13.6" height="2.2" fill="#4a4a4a" rx="1.1" filter="url(#bl)"/>
<rect x="386.5" y="375.85" width="13.6" height="2.5" fill="#3a3a3a" rx="1.25" filter="url(#bl)"/>
<rect x="404.5" y="375.75" width="13.6" height="2.7" fill="#2e2e2e" rx="1.35" filter="url(#bl)"/>
<rect x="423" y="376.5" width="13.6" height="2" fill="#555" rx="1" filter="url(#bl)"/>
<rect x="440.4" y="376.4" width="13.6" height="2.2" fill="#444" rx="1.1" filter="url(#bl)"/>
<rect x="457.7" y="376.4" width="13.6" height="2.2" fill="#404040" rx="1.1" filter="url(#bl)"/>
<rect x="475.3" y="375.85" width="13.6" height="2.5" fill="#3c3c3c" rx="1.25" filter="url(#bl)"/>
<text x="497.7" y="379.75" font-size="8" text-anchor="start" fill="#111" stroke="#111" stroke-width="0.16">Actin</text>
<rect x="363.7" y="397.3" width="131.1" height="9.8" fill="#a2a2a2"/>
<rect x="368.2" y="401.2" width="13.6" height="2" fill="#848484" rx="1" filter="url(#bl)"/>
<rect x="386.5" y="400.8" width="13.6" height="2.6" fill="#626262" rx="1.3" filter="url(#bl)"/>
<rect x="404.5" y="400.8" width="13.6" height="2.6" fill="#666" rx="1.3" filter="url(#bl)"/>
<rect x="423" y="400.7" width="13.6" height="2.8" fill="#404040" rx="1.4" filter="url(#bl)"/>
<rect x="440.4" y="400.7" width="13.6" height="2.8" fill="#4c4c4c" rx="1.4" filter="url(#bl)"/>
<rect x="457.7" y="400.7" width="13.6" height="2.8" fill="#4c4c4c" rx="1.4" filter="url(#bl)"/>
<rect x="475.3" y="400.6" width="13.6" height="3" fill="#404040" rx="1.5" filter="url(#bl)"/>
<text x="497.7" y="403.75" font-size="8" text-anchor="start" fill="#111" stroke="#111" stroke-width="0.16">Bcl-XL</text>
<text x="374.3" y="414.1" font-size="6.4" text-anchor="middle" fill="#111" stroke="#111" stroke-width="0.12">1.00</text>
<text x="392.6" y="414.1" font-size="6.4" text-anchor="middle" fill="#111" stroke="#111" stroke-width="0.12">1.01</text>
<text x="410.6" y="414.1" font-size="6.4" text-anchor="middle" fill="#111" stroke="#111" stroke-width="0.12">0.99</text>
<text x="429.1" y="414.1" font-size="6.4" text-anchor="middle" fill="#111" stroke="#111" stroke-width="0.12">0.96</text>
<text x="446.5" y="414.1" font-size="6.4" text-anchor="middle" fill="#111" stroke="#111" stroke-width="0.12">1.09</text>
<text x="463.8" y="414.1" font-size="6.4" text-anchor="middle" fill="#111" stroke="#111" stroke-width="0.12">0.93</text>
<text x="481.4" y="414.1" font-size="6.4" text-anchor="middle" fill="#111" stroke="#111" stroke-width="0.12">1.00</text>
<rect x="363.7" y="416.8" width="131.1" height="8.4" fill="#a0a0a0"/>
<rect x="368.2" y="420" width="13.6" height="1.6" fill="#7a7a7a" rx="0.8" filter="url(#bl)"/>
<rect x="386.5" y="420" width="13.6" height="1.6" fill="#7a7a7a" rx="0.8" filter="url(#bl)"/>
<rect x="404.5" y="420" width="13.6" height="1.6" fill="#7a7a7a" rx="0.8" filter="url(#bl)"/>
<rect x="423" y="420" width="13.6" height="1.6" fill="#7a7a7a" rx="0.8" filter="url(#bl)"/>
<rect x="440.4" y="420" width="13.6" height="1.6" fill="#7a7a7a" rx="0.8" filter="url(#bl)"/>
<rect x="457.7" y="420" width="13.6" height="1.6" fill="#7a7a7a" rx="0.8" filter="url(#bl)"/>
<rect x="475.3" y="420" width="13.6" height="1.6" fill="#7a7a7a" rx="0.8" filter="url(#bl)"/>
<text x="497.7" y="424.15" font-size="8" text-anchor="start" fill="#111" stroke="#111" stroke-width="0.16">Actin</text>
<polyline points="365.5,430.5 365.5,433.7 420.4,433.7 420.4,430.5" fill="none" stroke="#1a1a1a" stroke-width="1.05"/>
<polyline points="421.9,430.5 421.9,433.7 491.5,433.7 491.5,430.5" fill="none" stroke="#1a1a1a" stroke-width="1.05"/>
<text x="393.2" y="443.72" font-size="8.2" text-anchor="middle" fill="#111" stroke="#111" stroke-width="0.16">NNK</text>
<text x="456.9" y="443.72" font-size="8.2" text-anchor="middle" fill="#111" stroke="#111" stroke-width="0.16">ND-XNK</text>
</svg>
</body></html>
